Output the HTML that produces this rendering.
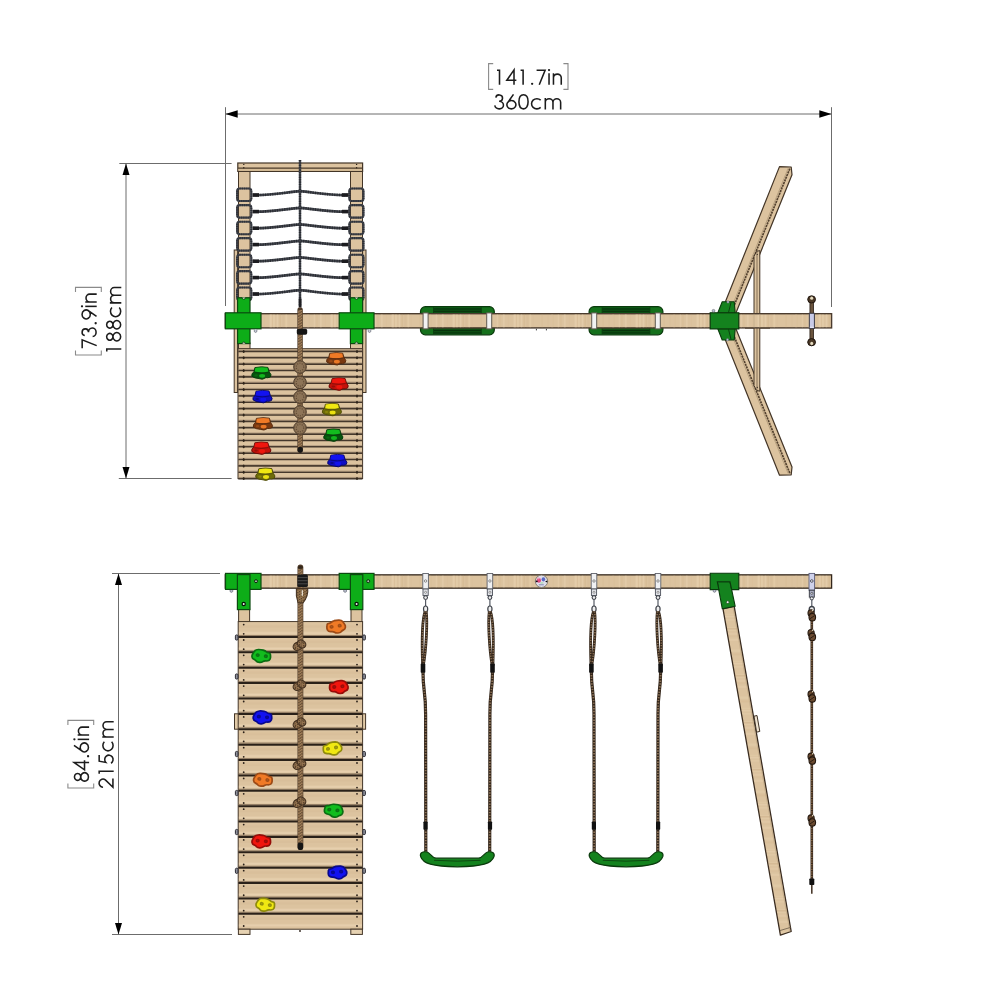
<!DOCTYPE html>
<html><head><meta charset="utf-8"><title>Swing set dimensions</title>
<style>html,body{margin:0;padding:0;background:#fff;}body{width:1000px;height:1000px;overflow:hidden;font-family:"Liberation Sans",sans-serif;}svg{display:block}</style>
</head><body>
<svg width="1000" height="1000" viewBox="0 0 1000 1000">
<rect width="1000" height="1000" fill="#fff"/>
<defs><pattern id="gv" width="61" height="40" patternUnits="userSpaceOnUse"><rect x="19.8" y="0" width="1.1" height="40" fill="#c9a97e" opacity="0.09"/><rect x="32.7" y="0" width="1.5" height="40" fill="#f1dcba" opacity="0.25"/><rect x="2.3" y="0" width="1.6" height="40" fill="#f1dcba" opacity="0.17"/><rect x="25.9" y="0" width="2.3" height="40" fill="#f1dcba" opacity="0.19"/><rect x="38.3" y="0" width="2.5" height="40" fill="#c9a97e" opacity="0.14"/><rect x="59.6" y="0" width="0.9" height="40" fill="#c9a97e" opacity="0.12"/><rect x="8.8" y="0" width="1.0" height="40" fill="#f1dcba" opacity="0.31"/><rect x="11.0" y="0" width="1.8" height="40" fill="#c9a97e" opacity="0.13"/><rect x="33.4" y="0" width="0.9" height="40" fill="#f1dcba" opacity="0.19"/><rect x="41.5" y="0" width="1.6" height="40" fill="#f1dcba" opacity="0.26"/><rect x="27.6" y="0" width="1.3" height="40" fill="#c9a97e" opacity="0.18"/><rect x="14.9" y="0" width="1.8" height="40" fill="#f1dcba" opacity="0.32"/><rect x="44.5" y="0" width="1.3" height="40" fill="#c9a97e" opacity="0.10"/><rect x="25.5" y="0" width="2.2" height="40" fill="#f1dcba" opacity="0.24"/><rect x="2.4" y="0" width="2.0" height="40" fill="#c9a97e" opacity="0.16"/><rect x="53.4" y="0" width="1.4" height="40" fill="#c9a97e" opacity="0.16"/><rect x="35.4" y="0" width="1.6" height="40" fill="#c9a97e" opacity="0.21"/><rect x="28.9" y="0" width="2.0" height="40" fill="#f1dcba" opacity="0.28"/></pattern><pattern id="gh" width="40" height="15.38" patternUnits="userSpaceOnUse"><rect x="0" y="10.0" width="40" height="2.6" fill="#c9a97e" opacity="0.12"/><rect x="0" y="5.9" width="40" height="2.0" fill="#f1dcba" opacity="0.24"/><rect x="0" y="2.6" width="40" height="1.0" fill="#f1dcba" opacity="0.30"/><rect x="0" y="2.0" width="40" height="1.2" fill="#f1dcba" opacity="0.32"/><rect x="0" y="1.2" width="40" height="1.6" fill="#f1dcba" opacity="0.32"/></pattern><pattern id="gl" width="40" height="47" patternUnits="userSpaceOnUse"><rect x="0" y="38.5" width="40" height="2.4" fill="#f1dcba" opacity="0.23"/><rect x="0" y="16.9" width="40" height="2.4" fill="#c9a97e" opacity="0.10"/><rect x="0" y="8.3" width="40" height="1.2" fill="#f1dcba" opacity="0.24"/><rect x="0" y="27.7" width="40" height="1.3" fill="#f1dcba" opacity="0.23"/><rect x="0" y="17.4" width="40" height="1.8" fill="#c9a97e" opacity="0.18"/><rect x="0" y="24.2" width="40" height="1.9" fill="#c9a97e" opacity="0.09"/><rect x="0" y="42.3" width="40" height="2.2" fill="#c9a97e" opacity="0.19"/><rect x="0" y="18.4" width="40" height="1.5" fill="#f1dcba" opacity="0.27"/><rect x="0" y="2.9" width="40" height="0.9" fill="#f1dcba" opacity="0.18"/><rect x="0" y="16.0" width="40" height="0.9" fill="#f1dcba" opacity="0.18"/><rect x="0" y="4.8" width="40" height="1.5" fill="#f1dcba" opacity="0.32"/><rect x="0" y="28.9" width="40" height="1.1" fill="#f1dcba" opacity="0.22"/><rect x="0" y="17.1" width="40" height="1.0" fill="#c9a97e" opacity="0.22"/><rect x="0" y="21.9" width="40" height="1.7" fill="#f1dcba" opacity="0.17"/></pattern></defs>
<line x1="225.50" y1="114.00" x2="831.50" y2="114.00" stroke="#6c6c6c" stroke-width="1" />
<line x1="225.50" y1="107.20" x2="225.50" y2="306.00" stroke="#6c6c6c" stroke-width="1" />
<line x1="831.50" y1="107.20" x2="831.50" y2="307.00" stroke="#6c6c6c" stroke-width="1" />
<polygon points="225.50,114.00 237.70,110.30 237.70,117.70" fill="#000" stroke="none" stroke-width="0" stroke-linejoin="round" />
<polygon points="831.50,114.00 819.30,110.30 819.30,117.70" fill="#000" stroke="none" stroke-width="0" stroke-linejoin="round" />
<line x1="126.00" y1="163.50" x2="126.00" y2="478.50" stroke="#6c6c6c" stroke-width="1" />
<line x1="119.30" y1="163.50" x2="231.60" y2="163.50" stroke="#6c6c6c" stroke-width="1" />
<line x1="118.80" y1="478.50" x2="231.60" y2="478.50" stroke="#6c6c6c" stroke-width="1" />
<polygon points="126.00,163.50 122.50,175.10 129.50,175.10" fill="#000" stroke="none" stroke-width="0" stroke-linejoin="round" />
<polygon points="126.00,478.50 122.50,466.90 129.50,466.90" fill="#000" stroke="none" stroke-width="0" stroke-linejoin="round" />
<line x1="118.50" y1="573.50" x2="118.50" y2="934.50" stroke="#6c6c6c" stroke-width="1" />
<line x1="112.00" y1="573.50" x2="220.00" y2="573.50" stroke="#6c6c6c" stroke-width="1" />
<line x1="112.00" y1="934.50" x2="232.00" y2="934.50" stroke="#6c6c6c" stroke-width="1" />
<polygon points="118.50,573.50 115.00,585.10 122.00,585.10" fill="#000" stroke="none" stroke-width="0" stroke-linejoin="round" />
<polygon points="118.50,934.50 115.00,922.90 122.00,922.90" fill="#000" stroke="none" stroke-width="0" stroke-linejoin="round" />
<g transform="translate(528.70,84.80)"><g transform="translate(-34.90,0)"><path transform="translate(0.00,0) scale(0.02130)" d="M150,-682 H268 V0" fill="none" stroke="#1c1c1c" stroke-width="72.8" stroke-linejoin="miter" stroke-miterlimit="6" stroke-linecap="butt"/><path transform="translate(11.80,0) scale(0.02130)" d="M395,0 V-700 L58,-215 H505" fill="none" stroke="#1c1c1c" stroke-width="72.8" stroke-linejoin="miter" stroke-miterlimit="6" stroke-linecap="butt"/><path transform="translate(23.60,0) scale(0.02130)" d="M150,-682 H268 V0" fill="none" stroke="#1c1c1c" stroke-width="72.8" stroke-linejoin="miter" stroke-miterlimit="6" stroke-linecap="butt"/><circle cx="38.34" cy="-1.02" r="1.15" fill="#1c1c1c"/><path transform="translate(41.30,0) scale(0.02130)" d="M70,-682 H470 L195,0" fill="none" stroke="#1c1c1c" stroke-width="72.8" stroke-linejoin="miter" stroke-miterlimit="6" stroke-linecap="butt"/><path transform="translate(53.10,0) scale(0.02130)" d="M100,0 V-537" fill="none" stroke="#1c1c1c" stroke-width="72.8" stroke-linejoin="miter" stroke-miterlimit="6" stroke-linecap="butt"/><circle cx="55.23" cy="-14.70" r="1.15" fill="#1c1c1c"/><path transform="translate(57.36,0) scale(0.02130)" d="M108,0 V-537 M108,-330 A183,172 0 0 1 474,-330 V0" fill="none" stroke="#1c1c1c" stroke-width="72.8" stroke-linejoin="miter" stroke-miterlimit="6" stroke-linecap="butt"/></g><path d="M-35.50,-21.2 H-40.10 V4.6 H-35.50 M34.70,-21.2 H39.30 V4.6 H34.70" fill="none" stroke="#8a8a8a" stroke-width="1.1"/></g>
<g transform="translate(528.20,109.50)"><g transform="translate(-34.80,0)"><path transform="translate(0.00,0) scale(0.02130)" d="M115,-560 A158,150 0 1 1 268,-385 A204,178 0 1 1 66,-190" fill="none" stroke="#1c1c1c" stroke-width="72.8" stroke-linejoin="miter" stroke-miterlimit="6" stroke-linecap="butt"/><path transform="translate(12.10,0) scale(0.02130)" d="M375,-710 L105,-325 M277,-418 A210,194 0 1 1 276.9,-418 Z" fill="none" stroke="#1c1c1c" stroke-width="72.8" stroke-linejoin="miter" stroke-miterlimit="6" stroke-linecap="butt"/><path transform="translate(24.20,0) scale(0.02130)" d="M277,-30 C140,-30 62,-170 62,-359 C62,-548 140,-688 277,-688 C414,-688 492,-548 492,-359 C492,-170 414,-30 277,-30 Z" fill="none" stroke="#1c1c1c" stroke-width="72.8" stroke-linejoin="miter" stroke-miterlimit="6" stroke-linecap="butt"/><path transform="translate(36.30,0) scale(0.02130)" d="M515,-440 A252,240 0 1 0 515,-97" fill="none" stroke="#1c1c1c" stroke-width="72.8" stroke-linejoin="miter" stroke-miterlimit="6" stroke-linecap="butt"/><path transform="translate(49.61,0) scale(0.02130)" d="M108,0 V-537 M108,-330 A180,172 0 0 1 468,-330 V0 M468,-330 A180,172 0 0 1 828,-330 V0" fill="none" stroke="#1c1c1c" stroke-width="72.8" stroke-linejoin="miter" stroke-miterlimit="6" stroke-linecap="butt"/></g></g>
<g transform="translate(96.70,320.80) rotate(-90)"><g transform="translate(-29.00,0)"><path transform="translate(0.00,0) scale(0.02130)" d="M70,-682 H470 L195,0" fill="none" stroke="#1c1c1c" stroke-width="72.8" stroke-linejoin="miter" stroke-miterlimit="6" stroke-linecap="butt"/><path transform="translate(11.80,0) scale(0.02130)" d="M115,-560 A158,150 0 1 1 268,-385 A204,178 0 1 1 66,-190" fill="none" stroke="#1c1c1c" stroke-width="72.8" stroke-linejoin="miter" stroke-miterlimit="6" stroke-linecap="butt"/><circle cx="26.54" cy="-1.02" r="1.15" fill="#1c1c1c"/><path transform="translate(29.50,0) scale(0.02130)" d="M179,-8 L449,-393 M277,-300 A210,194 0 1 1 277.1,-300 Z" fill="none" stroke="#1c1c1c" stroke-width="72.8" stroke-linejoin="miter" stroke-miterlimit="6" stroke-linecap="butt"/><path transform="translate(41.30,0) scale(0.02130)" d="M100,0 V-537" fill="none" stroke="#1c1c1c" stroke-width="72.8" stroke-linejoin="miter" stroke-miterlimit="6" stroke-linecap="butt"/><circle cx="43.43" cy="-14.70" r="1.15" fill="#1c1c1c"/><path transform="translate(45.56,0) scale(0.02130)" d="M108,0 V-537 M108,-330 A183,172 0 0 1 474,-330 V0" fill="none" stroke="#1c1c1c" stroke-width="72.8" stroke-linejoin="miter" stroke-miterlimit="6" stroke-linecap="butt"/></g><path d="M-29.60,-21.2 H-34.20 V4.6 H-29.60 M28.80,-21.2 H33.40 V4.6 H28.80" fill="none" stroke="#8a8a8a" stroke-width="1.1"/></g>
<g transform="translate(121.30,320.00) rotate(-90)"><g transform="translate(-34.80,0)"><path transform="translate(0.00,0) scale(0.02130)" d="M150,-682 H268 V0" fill="none" stroke="#1c1c1c" stroke-width="72.8" stroke-linejoin="miter" stroke-miterlimit="6" stroke-linecap="butt"/><path transform="translate(12.10,0) scale(0.02130)" d="M277,-392 A160,148 0 1 1 277.1,-392 Z M277,-392 A198,181 0 1 0 277.1,-392 Z" fill="none" stroke="#1c1c1c" stroke-width="72.8" stroke-linejoin="miter" stroke-miterlimit="6" stroke-linecap="butt"/><path transform="translate(24.20,0) scale(0.02130)" d="M277,-392 A160,148 0 1 1 277.1,-392 Z M277,-392 A198,181 0 1 0 277.1,-392 Z" fill="none" stroke="#1c1c1c" stroke-width="72.8" stroke-linejoin="miter" stroke-miterlimit="6" stroke-linecap="butt"/><path transform="translate(36.30,0) scale(0.02130)" d="M515,-440 A252,240 0 1 0 515,-97" fill="none" stroke="#1c1c1c" stroke-width="72.8" stroke-linejoin="miter" stroke-miterlimit="6" stroke-linecap="butt"/><path transform="translate(49.61,0) scale(0.02130)" d="M108,0 V-537 M108,-330 A180,172 0 0 1 468,-330 V0 M468,-330 A180,172 0 0 1 828,-330 V0" fill="none" stroke="#1c1c1c" stroke-width="72.8" stroke-linejoin="miter" stroke-miterlimit="6" stroke-linecap="butt"/></g></g>
<g transform="translate(89.10,753.80) rotate(-90)"><g transform="translate(-29.00,0)"><path transform="translate(0.00,0) scale(0.02130)" d="M277,-392 A160,148 0 1 1 277.1,-392 Z M277,-392 A198,181 0 1 0 277.1,-392 Z" fill="none" stroke="#1c1c1c" stroke-width="72.8" stroke-linejoin="miter" stroke-miterlimit="6" stroke-linecap="butt"/><path transform="translate(11.80,0) scale(0.02130)" d="M395,0 V-700 L58,-215 H505" fill="none" stroke="#1c1c1c" stroke-width="72.8" stroke-linejoin="miter" stroke-miterlimit="6" stroke-linecap="butt"/><circle cx="26.54" cy="-1.02" r="1.15" fill="#1c1c1c"/><path transform="translate(29.50,0) scale(0.02130)" d="M375,-710 L105,-325 M277,-418 A210,194 0 1 1 276.9,-418 Z" fill="none" stroke="#1c1c1c" stroke-width="72.8" stroke-linejoin="miter" stroke-miterlimit="6" stroke-linecap="butt"/><path transform="translate(41.30,0) scale(0.02130)" d="M100,0 V-537" fill="none" stroke="#1c1c1c" stroke-width="72.8" stroke-linejoin="miter" stroke-miterlimit="6" stroke-linecap="butt"/><circle cx="43.43" cy="-14.70" r="1.15" fill="#1c1c1c"/><path transform="translate(45.56,0) scale(0.02130)" d="M108,0 V-537 M108,-330 A183,172 0 0 1 474,-330 V0" fill="none" stroke="#1c1c1c" stroke-width="72.8" stroke-linejoin="miter" stroke-miterlimit="6" stroke-linecap="butt"/></g><path d="M-29.60,-21.2 H-34.20 V4.6 H-29.60 M28.80,-21.2 H33.40 V4.6 H28.80" fill="none" stroke="#8a8a8a" stroke-width="1.1"/></g>
<g transform="translate(113.70,754.20) rotate(-90)"><g transform="translate(-34.80,0)"><path transform="translate(0.00,0) scale(0.02130)" d="M85,-500 A192,182 0 1 1 428,-392 L85,-36 H488" fill="none" stroke="#1c1c1c" stroke-width="72.8" stroke-linejoin="miter" stroke-miterlimit="6" stroke-linecap="butt"/><path transform="translate(12.10,0) scale(0.02130)" d="M150,-682 H268 V0" fill="none" stroke="#1c1c1c" stroke-width="72.8" stroke-linejoin="miter" stroke-miterlimit="6" stroke-linecap="butt"/><path transform="translate(24.20,0) scale(0.02130)" d="M455,-682 H172 L112,-372 A206,196 0 1 1 72,-125" fill="none" stroke="#1c1c1c" stroke-width="72.8" stroke-linejoin="miter" stroke-miterlimit="6" stroke-linecap="butt"/><path transform="translate(36.30,0) scale(0.02130)" d="M515,-440 A252,240 0 1 0 515,-97" fill="none" stroke="#1c1c1c" stroke-width="72.8" stroke-linejoin="miter" stroke-miterlimit="6" stroke-linecap="butt"/><path transform="translate(49.61,0) scale(0.02130)" d="M108,0 V-537 M108,-330 A180,172 0 0 1 468,-330 V0 M468,-330 A180,172 0 0 1 828,-330 V0" fill="none" stroke="#1c1c1c" stroke-width="72.8" stroke-linejoin="miter" stroke-miterlimit="6" stroke-linecap="butt"/></g></g>
<rect x="234.20" y="250.00" width="3.40" height="142.50" fill="#dcc39f" stroke="#433527" stroke-width="1" />
<rect x="362.60" y="250.00" width="3.40" height="142.50" fill="#dcc39f" stroke="#433527" stroke-width="1" />
<rect x="238.50" y="171.00" width="11.50" height="127.00" fill="#dcc39f" stroke="#433527" stroke-width="1" />
<rect x="350.50" y="171.00" width="12.00" height="127.00" fill="#dcc39f" stroke="#433527" stroke-width="1" />
<rect x="238.50" y="343.00" width="11.50" height="6.00" fill="#dcc39f" stroke="#433527" stroke-width="1" />
<rect x="350.50" y="343.00" width="12.00" height="6.00" fill="#dcc39f" stroke="#433527" stroke-width="1" />
<rect x="237.80" y="163.00" width="124.80" height="8.40" fill="#dcc39f" stroke="#433527" stroke-width="1.2" />
<rect x="238.40" y="168.20" width="123.60" height="2.60" fill="#d6bd98" stroke="none" stroke-width="0" />
<line x1="238.00" y1="168.10" x2="362.40" y2="168.10" stroke="#4a3a2a" stroke-width="1.2" />
<circle cx="243.80" cy="164.40" r="0.70" fill="#2a2018" stroke="none" stroke-width="0"/>
<circle cx="243.80" cy="167.80" r="0.70" fill="#2a2018" stroke="none" stroke-width="0"/>
<circle cx="356.60" cy="164.40" r="0.70" fill="#2a2018" stroke="none" stroke-width="0"/>
<circle cx="356.60" cy="167.80" r="0.70" fill="#2a2018" stroke="none" stroke-width="0"/>
<rect x="237.1" y="188.5" width="14.2" height="12.5" rx="2.6" ry="2.6" fill="none" stroke="#44474f" stroke-width="2.1"/>
<rect x="237.1" y="188.5" width="14.2" height="12.5" rx="2.6" ry="2.6" fill="none" stroke="#1d1f24" stroke-width="2.1" stroke-dasharray="1 1.2" opacity="0.6"/>
<rect x="349.3" y="188.5" width="14.2" height="12.5" rx="2.6" ry="2.6" fill="none" stroke="#44474f" stroke-width="2.1"/>
<rect x="349.3" y="188.5" width="14.2" height="12.5" rx="2.6" ry="2.6" fill="none" stroke="#1d1f24" stroke-width="2.1" stroke-dasharray="1 1.2" opacity="0.6"/>
<path d="M253,195.0 C270,195.5 285,192.5 300,191.2 C315,192.5 330,195.5 348,195.0" fill="none" stroke="#44474f" stroke-width="2.7" />
<path d="M253,195.0 C270,195.5 285,192.5 300,191.2 C315,192.5 330,195.5 348,195.0" fill="none" stroke="#1d1f24" stroke-width="2.7" stroke-dasharray="1.1 1.3" opacity="0.7"/>
<rect x="252.50" y="193.20" width="6.50" height="3.60" fill="#1c1c20" stroke="none" stroke-width="0" />
<rect x="342.00" y="193.20" width="6.50" height="3.60" fill="#1c1c20" stroke="none" stroke-width="0" />
<rect x="237.1" y="205.1" width="14.2" height="12.5" rx="2.6" ry="2.6" fill="none" stroke="#44474f" stroke-width="2.1"/>
<rect x="237.1" y="205.1" width="14.2" height="12.5" rx="2.6" ry="2.6" fill="none" stroke="#1d1f24" stroke-width="2.1" stroke-dasharray="1 1.2" opacity="0.6"/>
<rect x="349.3" y="205.1" width="14.2" height="12.5" rx="2.6" ry="2.6" fill="none" stroke="#44474f" stroke-width="2.1"/>
<rect x="349.3" y="205.1" width="14.2" height="12.5" rx="2.6" ry="2.6" fill="none" stroke="#1d1f24" stroke-width="2.1" stroke-dasharray="1 1.2" opacity="0.6"/>
<path d="M253,211.6 C270,212.1 285,209.1 300,207.8 C315,209.1 330,212.1 348,211.6" fill="none" stroke="#44474f" stroke-width="2.7" />
<path d="M253,211.6 C270,212.1 285,209.1 300,207.8 C315,209.1 330,212.1 348,211.6" fill="none" stroke="#1d1f24" stroke-width="2.7" stroke-dasharray="1.1 1.3" opacity="0.7"/>
<rect x="252.50" y="209.80" width="6.50" height="3.60" fill="#1c1c20" stroke="none" stroke-width="0" />
<rect x="342.00" y="209.80" width="6.50" height="3.60" fill="#1c1c20" stroke="none" stroke-width="0" />
<rect x="237.1" y="221.7" width="14.2" height="12.5" rx="2.6" ry="2.6" fill="none" stroke="#44474f" stroke-width="2.1"/>
<rect x="237.1" y="221.7" width="14.2" height="12.5" rx="2.6" ry="2.6" fill="none" stroke="#1d1f24" stroke-width="2.1" stroke-dasharray="1 1.2" opacity="0.6"/>
<rect x="349.3" y="221.7" width="14.2" height="12.5" rx="2.6" ry="2.6" fill="none" stroke="#44474f" stroke-width="2.1"/>
<rect x="349.3" y="221.7" width="14.2" height="12.5" rx="2.6" ry="2.6" fill="none" stroke="#1d1f24" stroke-width="2.1" stroke-dasharray="1 1.2" opacity="0.6"/>
<path d="M253,228.2 C270,228.7 285,225.7 300,224.4 C315,225.7 330,228.7 348,228.2" fill="none" stroke="#44474f" stroke-width="2.7" />
<path d="M253,228.2 C270,228.7 285,225.7 300,224.4 C315,225.7 330,228.7 348,228.2" fill="none" stroke="#1d1f24" stroke-width="2.7" stroke-dasharray="1.1 1.3" opacity="0.7"/>
<rect x="252.50" y="226.40" width="6.50" height="3.60" fill="#1c1c20" stroke="none" stroke-width="0" />
<rect x="342.00" y="226.40" width="6.50" height="3.60" fill="#1c1c20" stroke="none" stroke-width="0" />
<rect x="237.1" y="238.1" width="14.2" height="12.5" rx="2.6" ry="2.6" fill="none" stroke="#44474f" stroke-width="2.1"/>
<rect x="237.1" y="238.1" width="14.2" height="12.5" rx="2.6" ry="2.6" fill="none" stroke="#1d1f24" stroke-width="2.1" stroke-dasharray="1 1.2" opacity="0.6"/>
<rect x="349.3" y="238.1" width="14.2" height="12.5" rx="2.6" ry="2.6" fill="none" stroke="#44474f" stroke-width="2.1"/>
<rect x="349.3" y="238.1" width="14.2" height="12.5" rx="2.6" ry="2.6" fill="none" stroke="#1d1f24" stroke-width="2.1" stroke-dasharray="1 1.2" opacity="0.6"/>
<path d="M253,244.6 C270,245.1 285,242.1 300,240.8 C315,242.1 330,245.1 348,244.6" fill="none" stroke="#44474f" stroke-width="2.7" />
<path d="M253,244.6 C270,245.1 285,242.1 300,240.8 C315,242.1 330,245.1 348,244.6" fill="none" stroke="#1d1f24" stroke-width="2.7" stroke-dasharray="1.1 1.3" opacity="0.7"/>
<rect x="252.50" y="242.80" width="6.50" height="3.60" fill="#1c1c20" stroke="none" stroke-width="0" />
<rect x="342.00" y="242.80" width="6.50" height="3.60" fill="#1c1c20" stroke="none" stroke-width="0" />
<rect x="237.1" y="254.7" width="14.2" height="12.5" rx="2.6" ry="2.6" fill="none" stroke="#44474f" stroke-width="2.1"/>
<rect x="237.1" y="254.7" width="14.2" height="12.5" rx="2.6" ry="2.6" fill="none" stroke="#1d1f24" stroke-width="2.1" stroke-dasharray="1 1.2" opacity="0.6"/>
<rect x="349.3" y="254.7" width="14.2" height="12.5" rx="2.6" ry="2.6" fill="none" stroke="#44474f" stroke-width="2.1"/>
<rect x="349.3" y="254.7" width="14.2" height="12.5" rx="2.6" ry="2.6" fill="none" stroke="#1d1f24" stroke-width="2.1" stroke-dasharray="1 1.2" opacity="0.6"/>
<path d="M253,261.2 C270,261.7 285,258.7 300,257.4 C315,258.7 330,261.7 348,261.2" fill="none" stroke="#44474f" stroke-width="2.7" />
<path d="M253,261.2 C270,261.7 285,258.7 300,257.4 C315,258.7 330,261.7 348,261.2" fill="none" stroke="#1d1f24" stroke-width="2.7" stroke-dasharray="1.1 1.3" opacity="0.7"/>
<rect x="252.50" y="259.40" width="6.50" height="3.60" fill="#1c1c20" stroke="none" stroke-width="0" />
<rect x="342.00" y="259.40" width="6.50" height="3.60" fill="#1c1c20" stroke="none" stroke-width="0" />
<rect x="237.1" y="271.1" width="14.2" height="12.5" rx="2.6" ry="2.6" fill="none" stroke="#44474f" stroke-width="2.1"/>
<rect x="237.1" y="271.1" width="14.2" height="12.5" rx="2.6" ry="2.6" fill="none" stroke="#1d1f24" stroke-width="2.1" stroke-dasharray="1 1.2" opacity="0.6"/>
<rect x="349.3" y="271.1" width="14.2" height="12.5" rx="2.6" ry="2.6" fill="none" stroke="#44474f" stroke-width="2.1"/>
<rect x="349.3" y="271.1" width="14.2" height="12.5" rx="2.6" ry="2.6" fill="none" stroke="#1d1f24" stroke-width="2.1" stroke-dasharray="1 1.2" opacity="0.6"/>
<path d="M253,277.6 C270,278.1 285,275.1 300,273.8 C315,275.1 330,278.1 348,277.6" fill="none" stroke="#44474f" stroke-width="2.7" />
<path d="M253,277.6 C270,278.1 285,275.1 300,273.8 C315,275.1 330,278.1 348,277.6" fill="none" stroke="#1d1f24" stroke-width="2.7" stroke-dasharray="1.1 1.3" opacity="0.7"/>
<rect x="252.50" y="275.80" width="6.50" height="3.60" fill="#1c1c20" stroke="none" stroke-width="0" />
<rect x="342.00" y="275.80" width="6.50" height="3.60" fill="#1c1c20" stroke="none" stroke-width="0" />
<rect x="237.1" y="287.5" width="14.2" height="12.5" rx="2.6" ry="2.6" fill="none" stroke="#44474f" stroke-width="2.1"/>
<rect x="237.1" y="287.5" width="14.2" height="12.5" rx="2.6" ry="2.6" fill="none" stroke="#1d1f24" stroke-width="2.1" stroke-dasharray="1 1.2" opacity="0.6"/>
<rect x="349.3" y="287.5" width="14.2" height="12.5" rx="2.6" ry="2.6" fill="none" stroke="#44474f" stroke-width="2.1"/>
<rect x="349.3" y="287.5" width="14.2" height="12.5" rx="2.6" ry="2.6" fill="none" stroke="#1d1f24" stroke-width="2.1" stroke-dasharray="1 1.2" opacity="0.6"/>
<path d="M253,294.0 C270,294.5 285,291.5 300,290.2 C315,291.5 330,294.5 348,294.0" fill="none" stroke="#44474f" stroke-width="2.7" />
<path d="M253,294.0 C270,294.5 285,291.5 300,290.2 C315,291.5 330,294.5 348,294.0" fill="none" stroke="#1d1f24" stroke-width="2.7" stroke-dasharray="1.1 1.3" opacity="0.7"/>
<rect x="252.50" y="292.20" width="6.50" height="3.60" fill="#1c1c20" stroke="none" stroke-width="0" />
<rect x="342.00" y="292.20" width="6.50" height="3.60" fill="#1c1c20" stroke="none" stroke-width="0" />
<path d="M300,160 V306" fill="none" stroke="#44474f" stroke-width="2.4" />
<path d="M300,160 V306" fill="none" stroke="#1d1f24" stroke-width="2.4" stroke-dasharray="1.1 1.3" opacity="0.7"/>
<rect x="298.70" y="298.50" width="2.80" height="9.00" fill="#1e1e22" stroke="none" stroke-width="0" />
<rect x="237.60" y="297.80" width="12.40" height="45.80" fill="#0dad18" stroke="#0b4a10" stroke-width="1.2" />
<rect x="350.40" y="297.80" width="12.20" height="45.80" fill="#0dad18" stroke="#0b4a10" stroke-width="1.2" />
<path d="M242.20000000000002,297.6 a1.6,1.7 0 0 0 3.2,0" fill="#e8e4da" stroke="#0b3a10" stroke-width="0.8" />
<path d="M242.20000000000002,343.8 a1.6,1.7 0 0 1 3.2,0" fill="#e8e4da" stroke="#0b3a10" stroke-width="0.8" />
<path d="M354.9,297.6 a1.6,1.7 0 0 0 3.2,0" fill="#e8e4da" stroke="#0b3a10" stroke-width="0.8" />
<path d="M354.9,343.8 a1.6,1.7 0 0 1 3.2,0" fill="#e8e4da" stroke="#0b3a10" stroke-width="0.8" />
<rect x="420.5" y="306.7" width="73.8" height="28.1" rx="4.8" fill="#15701c" stroke="#0a3a0c" stroke-width="1.2"/>
<rect x="433.5" y="307.4" width="47.8" height="26.7" fill="#0d4f14"/>
<line x1="434.00" y1="309.00" x2="480.80" y2="309.00" stroke="#062a0a" stroke-width="0.8" />
<line x1="434.00" y1="311.30" x2="480.80" y2="311.30" stroke="#062a0a" stroke-width="0.8" />
<line x1="434.00" y1="330.60" x2="480.80" y2="330.60" stroke="#062a0a" stroke-width="0.8" />
<line x1="434.00" y1="332.90" x2="480.80" y2="332.90" stroke="#062a0a" stroke-width="0.8" />
<line x1="433.50" y1="307.40" x2="433.50" y2="334.10" stroke="#0a3a0e" stroke-width="0.8" />
<line x1="481.30" y1="307.40" x2="481.30" y2="334.10" stroke="#0a3a0e" stroke-width="0.8" />
<rect x="589.1" y="306.7" width="73.8" height="28.1" rx="4.8" fill="#15701c" stroke="#0a3a0c" stroke-width="1.2"/>
<rect x="602.1" y="307.4" width="47.8" height="26.7" fill="#0d4f14"/>
<line x1="602.60" y1="309.00" x2="649.40" y2="309.00" stroke="#062a0a" stroke-width="0.8" />
<line x1="602.60" y1="311.30" x2="649.40" y2="311.30" stroke="#062a0a" stroke-width="0.8" />
<line x1="602.60" y1="330.60" x2="649.40" y2="330.60" stroke="#062a0a" stroke-width="0.8" />
<line x1="602.60" y1="332.90" x2="649.40" y2="332.90" stroke="#062a0a" stroke-width="0.8" />
<line x1="602.10" y1="307.40" x2="602.10" y2="334.10" stroke="#0a3a0e" stroke-width="0.8" />
<line x1="649.90" y1="307.40" x2="649.90" y2="334.10" stroke="#0a3a0e" stroke-width="0.8" />
<rect x="225.30" y="313.70" width="606.30" height="14.20" fill="#dcc39f" stroke="#4a3b2e" stroke-width="1.4" />
<rect x="226.00" y="314.30" width="605.00" height="13.20" fill="url(#gv)"/>
<line x1="536.40" y1="328.80" x2="536.40" y2="330.40" stroke="#3a3a3a" stroke-width="1" />
<line x1="546.40" y1="328.80" x2="546.40" y2="330.40" stroke="#3a3a3a" stroke-width="1" />
<rect x="423.10" y="312.90" width="5.00" height="16.00" fill="#f2f2f2" stroke="#5f5a50" stroke-width="1" />
<rect x="486.70" y="312.90" width="5.00" height="16.00" fill="#f2f2f2" stroke="#5f5a50" stroke-width="1" />
<rect x="591.70" y="312.90" width="5.00" height="16.00" fill="#f2f2f2" stroke="#5f5a50" stroke-width="1" />
<rect x="655.30" y="312.90" width="5.00" height="16.00" fill="#f2f2f2" stroke="#5f5a50" stroke-width="1" />
<rect x="238.00" y="348.70" width="124.60" height="129.90" fill="#dcc39f" stroke="#433527" stroke-width="1" />
<line x1="238.30" y1="351.40" x2="362.30" y2="351.40" stroke="#45382c" stroke-width="1.6" />
<line x1="238.30" y1="350.20" x2="362.30" y2="350.20" stroke="#96806a" stroke-width="0.9" opacity="0.6"/>
<ellipse cx="243.7" cy="351.40" rx="1.0" ry="1.5" fill="#2e241a"/>
<ellipse cx="357.0" cy="351.40" rx="1.0" ry="1.5" fill="#2e241a"/>
<line x1="238.30" y1="357.76" x2="362.30" y2="357.76" stroke="#45382c" stroke-width="1.6" />
<line x1="238.30" y1="356.56" x2="362.30" y2="356.56" stroke="#96806a" stroke-width="0.9" opacity="0.6"/>
<ellipse cx="243.7" cy="357.76" rx="1.0" ry="1.5" fill="#2e241a"/>
<ellipse cx="357.0" cy="357.76" rx="1.0" ry="1.5" fill="#2e241a"/>
<line x1="238.30" y1="364.12" x2="362.30" y2="364.12" stroke="#45382c" stroke-width="1.6" />
<line x1="238.30" y1="362.92" x2="362.30" y2="362.92" stroke="#96806a" stroke-width="0.9" opacity="0.6"/>
<ellipse cx="243.7" cy="364.12" rx="1.0" ry="1.5" fill="#2e241a"/>
<ellipse cx="357.0" cy="364.12" rx="1.0" ry="1.5" fill="#2e241a"/>
<line x1="238.30" y1="370.48" x2="362.30" y2="370.48" stroke="#45382c" stroke-width="1.6" />
<line x1="238.30" y1="369.28" x2="362.30" y2="369.28" stroke="#96806a" stroke-width="0.9" opacity="0.6"/>
<ellipse cx="243.7" cy="370.48" rx="1.0" ry="1.5" fill="#2e241a"/>
<ellipse cx="357.0" cy="370.48" rx="1.0" ry="1.5" fill="#2e241a"/>
<line x1="238.30" y1="376.84" x2="362.30" y2="376.84" stroke="#45382c" stroke-width="1.6" />
<line x1="238.30" y1="375.64" x2="362.30" y2="375.64" stroke="#96806a" stroke-width="0.9" opacity="0.6"/>
<ellipse cx="243.7" cy="376.84" rx="1.0" ry="1.5" fill="#2e241a"/>
<ellipse cx="357.0" cy="376.84" rx="1.0" ry="1.5" fill="#2e241a"/>
<line x1="238.30" y1="383.20" x2="362.30" y2="383.20" stroke="#45382c" stroke-width="1.6" />
<line x1="238.30" y1="382.00" x2="362.30" y2="382.00" stroke="#96806a" stroke-width="0.9" opacity="0.6"/>
<ellipse cx="243.7" cy="383.20" rx="1.0" ry="1.5" fill="#2e241a"/>
<ellipse cx="357.0" cy="383.20" rx="1.0" ry="1.5" fill="#2e241a"/>
<line x1="238.30" y1="389.56" x2="362.30" y2="389.56" stroke="#45382c" stroke-width="1.6" />
<line x1="238.30" y1="388.36" x2="362.30" y2="388.36" stroke="#96806a" stroke-width="0.9" opacity="0.6"/>
<ellipse cx="243.7" cy="389.56" rx="1.0" ry="1.5" fill="#2e241a"/>
<ellipse cx="357.0" cy="389.56" rx="1.0" ry="1.5" fill="#2e241a"/>
<line x1="238.30" y1="395.92" x2="362.30" y2="395.92" stroke="#45382c" stroke-width="1.6" />
<line x1="238.30" y1="394.72" x2="362.30" y2="394.72" stroke="#96806a" stroke-width="0.9" opacity="0.6"/>
<ellipse cx="243.7" cy="395.92" rx="1.0" ry="1.5" fill="#2e241a"/>
<ellipse cx="357.0" cy="395.92" rx="1.0" ry="1.5" fill="#2e241a"/>
<line x1="238.30" y1="402.28" x2="362.30" y2="402.28" stroke="#45382c" stroke-width="1.6" />
<line x1="238.30" y1="401.08" x2="362.30" y2="401.08" stroke="#96806a" stroke-width="0.9" opacity="0.6"/>
<ellipse cx="243.7" cy="402.28" rx="1.0" ry="1.5" fill="#2e241a"/>
<ellipse cx="357.0" cy="402.28" rx="1.0" ry="1.5" fill="#2e241a"/>
<line x1="238.30" y1="408.64" x2="362.30" y2="408.64" stroke="#45382c" stroke-width="1.6" />
<line x1="238.30" y1="407.44" x2="362.30" y2="407.44" stroke="#96806a" stroke-width="0.9" opacity="0.6"/>
<ellipse cx="243.7" cy="408.64" rx="1.0" ry="1.5" fill="#2e241a"/>
<ellipse cx="357.0" cy="408.64" rx="1.0" ry="1.5" fill="#2e241a"/>
<line x1="238.30" y1="415.00" x2="362.30" y2="415.00" stroke="#45382c" stroke-width="1.6" />
<line x1="238.30" y1="413.80" x2="362.30" y2="413.80" stroke="#96806a" stroke-width="0.9" opacity="0.6"/>
<ellipse cx="243.7" cy="415.00" rx="1.0" ry="1.5" fill="#2e241a"/>
<ellipse cx="357.0" cy="415.00" rx="1.0" ry="1.5" fill="#2e241a"/>
<line x1="238.30" y1="421.36" x2="362.30" y2="421.36" stroke="#45382c" stroke-width="1.6" />
<line x1="238.30" y1="420.16" x2="362.30" y2="420.16" stroke="#96806a" stroke-width="0.9" opacity="0.6"/>
<ellipse cx="243.7" cy="421.36" rx="1.0" ry="1.5" fill="#2e241a"/>
<ellipse cx="357.0" cy="421.36" rx="1.0" ry="1.5" fill="#2e241a"/>
<line x1="238.30" y1="427.72" x2="362.30" y2="427.72" stroke="#45382c" stroke-width="1.6" />
<line x1="238.30" y1="426.52" x2="362.30" y2="426.52" stroke="#96806a" stroke-width="0.9" opacity="0.6"/>
<ellipse cx="243.7" cy="427.72" rx="1.0" ry="1.5" fill="#2e241a"/>
<ellipse cx="357.0" cy="427.72" rx="1.0" ry="1.5" fill="#2e241a"/>
<line x1="238.30" y1="434.08" x2="362.30" y2="434.08" stroke="#45382c" stroke-width="1.6" />
<line x1="238.30" y1="432.88" x2="362.30" y2="432.88" stroke="#96806a" stroke-width="0.9" opacity="0.6"/>
<ellipse cx="243.7" cy="434.08" rx="1.0" ry="1.5" fill="#2e241a"/>
<ellipse cx="357.0" cy="434.08" rx="1.0" ry="1.5" fill="#2e241a"/>
<line x1="238.30" y1="440.44" x2="362.30" y2="440.44" stroke="#45382c" stroke-width="1.6" />
<line x1="238.30" y1="439.24" x2="362.30" y2="439.24" stroke="#96806a" stroke-width="0.9" opacity="0.6"/>
<ellipse cx="243.7" cy="440.44" rx="1.0" ry="1.5" fill="#2e241a"/>
<ellipse cx="357.0" cy="440.44" rx="1.0" ry="1.5" fill="#2e241a"/>
<line x1="238.30" y1="446.80" x2="362.30" y2="446.80" stroke="#45382c" stroke-width="1.6" />
<line x1="238.30" y1="445.60" x2="362.30" y2="445.60" stroke="#96806a" stroke-width="0.9" opacity="0.6"/>
<ellipse cx="243.7" cy="446.80" rx="1.0" ry="1.5" fill="#2e241a"/>
<ellipse cx="357.0" cy="446.80" rx="1.0" ry="1.5" fill="#2e241a"/>
<line x1="238.30" y1="453.16" x2="362.30" y2="453.16" stroke="#45382c" stroke-width="1.6" />
<line x1="238.30" y1="451.96" x2="362.30" y2="451.96" stroke="#96806a" stroke-width="0.9" opacity="0.6"/>
<ellipse cx="243.7" cy="453.16" rx="1.0" ry="1.5" fill="#2e241a"/>
<ellipse cx="357.0" cy="453.16" rx="1.0" ry="1.5" fill="#2e241a"/>
<line x1="238.30" y1="459.52" x2="362.30" y2="459.52" stroke="#45382c" stroke-width="1.6" />
<line x1="238.30" y1="458.32" x2="362.30" y2="458.32" stroke="#96806a" stroke-width="0.9" opacity="0.6"/>
<ellipse cx="243.7" cy="459.52" rx="1.0" ry="1.5" fill="#2e241a"/>
<ellipse cx="357.0" cy="459.52" rx="1.0" ry="1.5" fill="#2e241a"/>
<line x1="238.30" y1="465.88" x2="362.30" y2="465.88" stroke="#45382c" stroke-width="1.6" />
<line x1="238.30" y1="464.68" x2="362.30" y2="464.68" stroke="#96806a" stroke-width="0.9" opacity="0.6"/>
<ellipse cx="243.7" cy="465.88" rx="1.0" ry="1.5" fill="#2e241a"/>
<ellipse cx="357.0" cy="465.88" rx="1.0" ry="1.5" fill="#2e241a"/>
<line x1="238.30" y1="472.24" x2="362.30" y2="472.24" stroke="#45382c" stroke-width="1.6" />
<line x1="238.30" y1="471.04" x2="362.30" y2="471.04" stroke="#96806a" stroke-width="0.9" opacity="0.6"/>
<ellipse cx="243.7" cy="472.24" rx="1.0" ry="1.5" fill="#2e241a"/>
<ellipse cx="357.0" cy="472.24" rx="1.0" ry="1.5" fill="#2e241a"/>
<line x1="238.30" y1="478.60" x2="362.30" y2="478.60" stroke="#45382c" stroke-width="1.6" />
<line x1="238.30" y1="477.40" x2="362.30" y2="477.40" stroke="#96806a" stroke-width="0.9" opacity="0.6"/>
<ellipse cx="243.7" cy="478.60" rx="1.0" ry="1.5" fill="#2e241a"/>
<ellipse cx="357.0" cy="478.60" rx="1.0" ry="1.5" fill="#2e241a"/>
<rect x="225.40" y="312.80" width="35.60" height="16.00" fill="#0dad18" stroke="#0b4a10" stroke-width="1.2" />
<rect x="339.20" y="312.80" width="34.80" height="16.00" fill="#0dad18" stroke="#0b4a10" stroke-width="1.2" />
<path d="M254.29999999999998,329.5 v2.2 q1.3,1.6 2.6,0 v-2.2" fill="#c8ccd8" stroke="#555a66" stroke-width="0.6" />
<path d="M368.2,329.5 v2.2 q1.3,1.6 2.6,0 v-2.2" fill="#c8ccd8" stroke="#555a66" stroke-width="0.6" />
<path d="M300.1,310 V450" fill="none" stroke="#4e3a28" stroke-width="5.3999999999999995" stroke-linecap="round"/>
<path d="M300.1,310 V450" fill="none" stroke="#a3815a" stroke-width="4.1" />
<path d="M298.77,310 V450" fill="none" stroke="#4e3a28" stroke-width="1.33" stroke-dasharray="1.3 1.5" stroke-dashoffset="0.00" opacity="0.7"/>
<path d="M300.10,310 V450" fill="none" stroke="#4e3a28" stroke-width="1.33" stroke-dasharray="1.3 1.5" stroke-dashoffset="0.93" opacity="0.7"/>
<path d="M301.43,310 V450" fill="none" stroke="#4e3a28" stroke-width="1.33" stroke-dasharray="1.3 1.5" stroke-dashoffset="1.86" opacity="0.7"/>
<circle cx="300.00" cy="367.00" r="6.30" fill="#8d7457" stroke="#4f3e2e" stroke-width="1"/>
<circle cx="300" cy="367" r="3.8" fill="none" stroke="#5b4632" stroke-width="1.2" stroke-dasharray="1.2 1.2" opacity="0.8"/>
<circle cx="300" cy="367" r="5.6" fill="none" stroke="#5b4632" stroke-width="0.9" stroke-dasharray="1.2 1.2" opacity="0.6"/>
<circle cx="300.00" cy="382.40" r="6.30" fill="#8d7457" stroke="#4f3e2e" stroke-width="1"/>
<circle cx="300" cy="382.4" r="3.8" fill="none" stroke="#5b4632" stroke-width="1.2" stroke-dasharray="1.2 1.2" opacity="0.8"/>
<circle cx="300" cy="382.4" r="5.6" fill="none" stroke="#5b4632" stroke-width="0.9" stroke-dasharray="1.2 1.2" opacity="0.6"/>
<circle cx="300.00" cy="397.00" r="6.30" fill="#8d7457" stroke="#4f3e2e" stroke-width="1"/>
<circle cx="300" cy="397" r="3.8" fill="none" stroke="#5b4632" stroke-width="1.2" stroke-dasharray="1.2 1.2" opacity="0.8"/>
<circle cx="300" cy="397" r="5.6" fill="none" stroke="#5b4632" stroke-width="0.9" stroke-dasharray="1.2 1.2" opacity="0.6"/>
<circle cx="300.00" cy="412.00" r="6.30" fill="#8d7457" stroke="#4f3e2e" stroke-width="1"/>
<circle cx="300" cy="412" r="3.8" fill="none" stroke="#5b4632" stroke-width="1.2" stroke-dasharray="1.2 1.2" opacity="0.8"/>
<circle cx="300" cy="412" r="5.6" fill="none" stroke="#5b4632" stroke-width="0.9" stroke-dasharray="1.2 1.2" opacity="0.6"/>
<circle cx="300.00" cy="428.00" r="6.30" fill="#8d7457" stroke="#4f3e2e" stroke-width="1"/>
<circle cx="300" cy="428" r="3.8" fill="none" stroke="#5b4632" stroke-width="1.2" stroke-dasharray="1.2 1.2" opacity="0.8"/>
<circle cx="300" cy="428" r="5.6" fill="none" stroke="#5b4632" stroke-width="0.9" stroke-dasharray="1.2 1.2" opacity="0.6"/>
<rect x="296.8" y="328.8" width="10.4" height="6" rx="1.8" fill="#151515"/>
<ellipse cx="300.2" cy="449.8" rx="2.7" ry="3" fill="#151515"/>
<path d="M329.7,353.4 Q336.3,352.0 342.7,353.2 L344.1,357.8 Q347.1,360.8 345.1,362.8 Q342.3,364.0 340.8,363.4 Q337.3,366.2 333.8,364.4 Q329.3,364.2 326.7,362.0 Q325.9,359.6 328.7,357.6 Z" fill="#793911" stroke="#55280c" stroke-width="0.9" stroke-linejoin="round"/>
<path d="M330.1,353.8 Q336.3,352.4 342.3,353.6 L343.1,357.2 Q336.3,358.8 329.5,357.4 Z" fill="#f07a26" stroke="none" stroke-width="0" />
<ellipse cx="336.9" cy="361.6" rx="3.0" ry="1.9" fill="#f07a26" opacity="0.95"/>
<ellipse cx="330.9" cy="361.2" rx="1.8" ry="1.1" fill="#9c4a16" opacity="0.9"/>
<path d="M329.3,358.4 Q336.3,359.8 343.3,358.2" fill="none" stroke="#55280c" stroke-width="0.8" opacity="0.8"/>
<path d="M254.9,367.6 Q261.5,366.2 267.9,367.4 L269.3,372.0 Q272.3,375.0 270.3,377.0 Q267.5,378.2 266.0,377.6 Q262.5,380.4 259.0,378.6 Q254.5,378.4 251.9,376.2 Q251.1,373.8 253.9,371.8 Z" fill="#07540e" stroke="#053b09" stroke-width="0.9" stroke-linejoin="round"/>
<path d="M255.3,368.0 Q261.5,366.6 267.5,367.8 L268.3,371.4 Q261.5,373.0 254.7,371.6 Z" fill="#12bc1e" stroke="none" stroke-width="0" />
<ellipse cx="262.1" cy="375.8" rx="3.0" ry="1.9" fill="#12bc1e" opacity="0.95"/>
<ellipse cx="256.1" cy="375.4" rx="1.8" ry="1.1" fill="#0a6c12" opacity="0.9"/>
<path d="M254.5,372.6 Q261.5,374.0 268.5,372.4" fill="none" stroke="#053b09" stroke-width="0.8" opacity="0.8"/>
<path d="M332.1,378.7 Q338.7,377.3 345.1,378.5 L346.5,383.1 Q349.5,386.1 347.5,388.1 Q344.7,389.3 343.2,388.7 Q339.7,391.5 336.2,389.7 Q331.7,389.5 329.1,387.3 Q328.3,384.9 331.1,382.9 Z" fill="#c4120b" stroke="#690805" stroke-width="0.9" stroke-linejoin="round"/>
<path d="M332.5,379.1 Q338.7,377.7 344.7,378.9 L345.5,382.5 Q338.7,384.1 331.9,382.7 Z" fill="#f0160e" stroke="none" stroke-width="0" />
<ellipse cx="339.3" cy="386.9" rx="3.0" ry="1.9" fill="#f0160e" opacity="0.95"/>
<ellipse cx="333.3" cy="386.5" rx="1.8" ry="1.1" fill="#960c08" opacity="0.9"/>
<path d="M331.7,383.7 Q338.7,385.1 345.7,383.5" fill="none" stroke="#690805" stroke-width="0.8" opacity="0.8"/>
<path d="M256.0,391.2 Q262.6,389.8 269.0,391.0 L270.4,395.6 Q273.4,398.6 271.4,400.6 Q268.6,401.8 267.1,401.2 Q263.6,404.0 260.1,402.2 Q255.6,402.0 253.0,399.8 Q252.2,397.4 255.0,395.4 Z" fill="#0e0ec4" stroke="#050562" stroke-width="0.9" stroke-linejoin="round"/>
<path d="M256.4,391.6 Q262.6,390.2 268.6,391.4 L269.4,395.0 Q262.6,396.6 255.8,395.2 Z" fill="#1212f0" stroke="none" stroke-width="0" />
<ellipse cx="263.2" cy="399.4" rx="3.0" ry="1.9" fill="#1212f0" opacity="0.95"/>
<ellipse cx="257.2" cy="399.0" rx="1.8" ry="1.1" fill="#08088c" opacity="0.9"/>
<path d="M255.6,396.2 Q262.6,397.6 269.6,396.0" fill="none" stroke="#050562" stroke-width="0.8" opacity="0.8"/>
<path d="M325.4,404.2 Q332.0,402.8 338.4,404.0 L339.8,408.6 Q342.8,411.6 340.8,413.6 Q338.0,414.8 336.5,414.2 Q333.0,417.0 329.5,415.2 Q325.0,415.0 322.4,412.8 Q321.6,410.4 324.4,408.4 Z" fill="#6e6b09" stroke="#4e4b06" stroke-width="0.9" stroke-linejoin="round"/>
<path d="M325.8,404.6 Q332.0,403.2 338.0,404.4 L338.8,408.0 Q332.0,409.6 325.2,408.2 Z" fill="#f0e812" stroke="none" stroke-width="0" />
<ellipse cx="332.6" cy="412.4" rx="3.0" ry="1.9" fill="#f0e812" opacity="0.95"/>
<ellipse cx="326.6" cy="412.0" rx="1.8" ry="1.1" fill="#8e8a0c" opacity="0.9"/>
<path d="M325.0,409.2 Q332.0,410.6 339.0,409.0" fill="none" stroke="#4e4b06" stroke-width="0.8" opacity="0.8"/>
<path d="M256.4,418.4 Q263.0,417.0 269.4,418.2 L270.8,422.8 Q273.8,425.8 271.8,427.8 Q269.0,429.0 267.5,428.4 Q264.0,431.2 260.5,429.4 Q256.0,429.2 253.4,427.0 Q252.6,424.6 255.4,422.6 Z" fill="#793911" stroke="#55280c" stroke-width="0.9" stroke-linejoin="round"/>
<path d="M256.8,418.8 Q263.0,417.4 269.0,418.6 L269.8,422.2 Q263.0,423.8 256.2,422.4 Z" fill="#f07a26" stroke="none" stroke-width="0" />
<ellipse cx="263.6" cy="426.6" rx="3.0" ry="1.9" fill="#f07a26" opacity="0.95"/>
<ellipse cx="257.6" cy="426.2" rx="1.8" ry="1.1" fill="#9c4a16" opacity="0.9"/>
<path d="M256.0,423.4 Q263.0,424.8 270.0,423.2" fill="none" stroke="#55280c" stroke-width="0.8" opacity="0.8"/>
<path d="M326.8,429.8 Q333.4,428.4 339.8,429.6 L341.2,434.2 Q344.2,437.2 342.2,439.2 Q339.4,440.4 337.9,439.8 Q334.4,442.6 330.9,440.8 Q326.4,440.6 323.8,438.4 Q323.0,436.0 325.8,434.0 Z" fill="#07540e" stroke="#053b09" stroke-width="0.9" stroke-linejoin="round"/>
<path d="M327.2,430.2 Q333.4,428.8 339.4,430.0 L340.2,433.6 Q333.4,435.2 326.6,433.8 Z" fill="#12bc1e" stroke="none" stroke-width="0" />
<ellipse cx="334.0" cy="438.0" rx="3.0" ry="1.9" fill="#12bc1e" opacity="0.95"/>
<ellipse cx="328.0" cy="437.6" rx="1.8" ry="1.1" fill="#0a6c12" opacity="0.9"/>
<path d="M326.4,434.8 Q333.4,436.2 340.4,434.6" fill="none" stroke="#053b09" stroke-width="0.8" opacity="0.8"/>
<path d="M254.8,442.8 Q261.4,441.4 267.8,442.6 L269.2,447.2 Q272.2,450.2 270.2,452.2 Q267.4,453.4 265.9,452.8 Q262.4,455.6 258.9,453.8 Q254.4,453.6 251.8,451.4 Q251.0,449.0 253.8,447.0 Z" fill="#c4120b" stroke="#690805" stroke-width="0.9" stroke-linejoin="round"/>
<path d="M255.2,443.2 Q261.4,441.8 267.4,443.0 L268.2,446.6 Q261.4,448.2 254.6,446.8 Z" fill="#f0160e" stroke="none" stroke-width="0" />
<ellipse cx="262.0" cy="451.0" rx="3.0" ry="1.9" fill="#f0160e" opacity="0.95"/>
<ellipse cx="256.0" cy="450.6" rx="1.8" ry="1.1" fill="#960c08" opacity="0.9"/>
<path d="M254.4,447.8 Q261.4,449.2 268.4,447.6" fill="none" stroke="#690805" stroke-width="0.8" opacity="0.8"/>
<path d="M330.8,455.2 Q337.4,453.8 343.8,455.0 L345.2,459.6 Q348.2,462.6 346.2,464.6 Q343.4,465.8 341.9,465.2 Q338.4,468.0 334.9,466.2 Q330.4,466.0 327.8,463.8 Q327.0,461.4 329.8,459.4 Z" fill="#0e0ec4" stroke="#050562" stroke-width="0.9" stroke-linejoin="round"/>
<path d="M331.2,455.6 Q337.4,454.2 343.4,455.4 L344.2,459.0 Q337.4,460.6 330.6,459.2 Z" fill="#1212f0" stroke="none" stroke-width="0" />
<ellipse cx="338.0" cy="463.4" rx="3.0" ry="1.9" fill="#1212f0" opacity="0.95"/>
<ellipse cx="332.0" cy="463.0" rx="1.8" ry="1.1" fill="#08088c" opacity="0.9"/>
<path d="M330.4,460.2 Q337.4,461.6 344.4,460.0" fill="none" stroke="#050562" stroke-width="0.8" opacity="0.8"/>
<path d="M258.8,468.8 Q265.4,467.4 271.8,468.6 L273.2,473.2 Q276.2,476.2 274.2,478.2 Q271.4,479.4 269.9,478.8 Q266.4,481.6 262.9,479.8 Q258.4,479.6 255.8,477.4 Q255.0,475.0 257.8,473.0 Z" fill="#6e6b09" stroke="#4e4b06" stroke-width="0.9" stroke-linejoin="round"/>
<path d="M259.2,469.2 Q265.4,467.8 271.4,469.0 L272.2,472.6 Q265.4,474.2 258.6,472.8 Z" fill="#f0e812" stroke="none" stroke-width="0" />
<ellipse cx="266.0" cy="477.0" rx="3.0" ry="1.9" fill="#f0e812" opacity="0.95"/>
<ellipse cx="260.0" cy="476.6" rx="1.8" ry="1.1" fill="#8e8a0c" opacity="0.9"/>
<path d="M258.4,473.8 Q265.4,475.2 272.4,473.6" fill="none" stroke="#4e4b06" stroke-width="0.8" opacity="0.8"/>
<polygon points="720.50,327.80 779.50,475.20 791.20,474.80 792.00,467.00 735.50,327.80" fill="#dcc39f" stroke="#433527" stroke-width="1.2" stroke-linejoin="round" />
<line x1="789.80" y1="473.20" x2="731.50" y2="329.80" stroke="#54422f" stroke-width="1.7" stroke-dasharray="2.2 0.7"/>
<line x1="788.20" y1="473.60" x2="729.90" y2="330.20" stroke="#a89272" stroke-width="0.7" />
<polygon points="720.50,314.00 779.50,166.60 791.20,167.00 792.00,174.80 735.50,314.00" fill="#dcc39f" stroke="#433527" stroke-width="1.2" stroke-linejoin="round" />
<line x1="789.80" y1="168.60" x2="731.50" y2="312.00" stroke="#54422f" stroke-width="1.7" stroke-dasharray="2.2 0.7"/>
<line x1="788.20" y1="168.20" x2="729.90" y2="311.60" stroke="#a89272" stroke-width="0.7" />
<polygon points="754.00,256.20 756.60,251.40 759.80,250.60 759.80,391.20 756.60,390.40 754.00,385.60" fill="#dcc4a0" stroke="#433527" stroke-width="1" stroke-linejoin="round" />
<line x1="757.00" y1="252.00" x2="757.00" y2="389.80" stroke="#6e5a44" stroke-width="0.8" />
<circle cx="757.30" cy="254.50" r="0.60" fill="#2a2018" stroke="none" stroke-width="0"/>
<circle cx="757.30" cy="387.30" r="0.60" fill="#2a2018" stroke="none" stroke-width="0"/>
<rect x="745.00" y="313.70" width="25.00" height="14.20" fill="#dcc39f" stroke="none" stroke-width="0" />
<rect x="745.00" y="314.30" width="25.00" height="13.20" fill="url(#gv)"/>
<line x1="745.00" y1="313.70" x2="770.00" y2="313.70" stroke="#4a3b2e" stroke-width="1.4" />
<line x1="745.00" y1="327.90" x2="770.00" y2="327.90" stroke="#4a3b2e" stroke-width="1.4" />
<line x1="754.00" y1="314.30" x2="754.00" y2="327.50" stroke="#b9a283" stroke-width="0.6" />
<line x1="759.80" y1="314.30" x2="759.80" y2="327.50" stroke="#b9a283" stroke-width="0.6" />
<polygon points="722.20,340.00 734.20,340.00 735.20,328.80 717.80,328.80" fill="#14821e" stroke="#0a3a0c" stroke-width="1.1" stroke-linejoin="round" />
<line x1="731.00" y1="339.30" x2="728.50" y2="329.30" stroke="#0a3a0c" stroke-width="0.9" />
<polygon points="722.20,301.80 734.20,301.80 735.20,313.00 717.80,313.00" fill="#14821e" stroke="#0a3a0c" stroke-width="1.1" stroke-linejoin="round" />
<line x1="731.00" y1="302.50" x2="728.50" y2="312.50" stroke="#0a3a0c" stroke-width="0.9" />
<rect x="710.20" y="312.80" width="28.60" height="16.10" fill="#14821e" stroke="#0a3a0c" stroke-width="1.2" />
<circle cx="713.50" cy="310.80" r="1.40" fill="#b8bfd8" stroke="#555" stroke-width="0.5"/>
<circle cx="728.00" cy="302.00" r="1.20" fill="#b8bfd8" stroke="#555" stroke-width="0.4"/>
<circle cx="727.50" cy="339.80" r="1.20" fill="#b8bfd8" stroke="#555" stroke-width="0.4"/>
<path d="M811.7,299 V342.5" fill="none" stroke="#2e2218" stroke-width="4.4" />
<path d="M811.7,299 V342.5" fill="none" stroke="#6a543e" stroke-width="2.6" />
<ellipse cx="811.6" cy="299.4" rx="3.9" ry="3.6" fill="#4a3826" stroke="#20160e" stroke-width="1"/>
<ellipse cx="811.7" cy="298.2" rx="1.5" ry="1.6" fill="#e6dcc0"/>
<ellipse cx="811.6" cy="342.2" rx="3.9" ry="3.6" fill="#4a3826" stroke="#20160e" stroke-width="1"/>
<ellipse cx="811.7" cy="343.4" rx="1.5" ry="1.6" fill="#e6dcc0"/>
<rect x="809.30" y="313.30" width="5.10" height="15.10" fill="#c9cbe8" stroke="#3c3c48" stroke-width="1" />
<line x1="809.80" y1="327.30" x2="813.90" y2="327.30" stroke="#f2f2fa" stroke-width="0.9" />
<polygon points="723.00,608.80 734.20,606.30 791.20,931.50 780.40,935.20" fill="#dcc39f" stroke="#3a2c20" stroke-width="1.3" stroke-linejoin="round" />
<polygon points="723.80,609.40 733.50,607.20 790.40,931.00 781.00,934.20" fill="url(#gl)" stroke="none" stroke-width="0" stroke-linejoin="round" />
<line x1="733.00" y1="607.00" x2="789.90" y2="931.80" stroke="#b39c7c" stroke-width="0.5" />
<line x1="779.80" y1="930.60" x2="790.60" y2="927.40" stroke="#6a5a48" stroke-width="0.8" />
<polygon points="754.00,716.20 757.00,715.50 759.80,731.40 756.60,732.20" fill="#efe4d2" stroke="#3f3226" stroke-width="1" stroke-linejoin="round" />
<rect x="238.60" y="609.00" width="11.00" height="13.00" fill="#dcc39f" stroke="#433527" stroke-width="1" />
<rect x="351.00" y="609.00" width="11.00" height="13.00" fill="#dcc39f" stroke="#433527" stroke-width="1" />
<rect x="225.30" y="574.85" width="606.30" height="13.30" fill="#dcc39f" stroke="#33261b" stroke-width="1.3" />
<rect x="226.00" y="575.55" width="605.00" height="11.90" fill="url(#gv)"/>
<rect x="234.50" y="713.80" width="131.10" height="15.40" fill="#e2cba8" stroke="#433527" stroke-width="1" />
<rect x="238.20" y="621.60" width="124.40" height="307.60" fill="#dcc39f" stroke="#433527" stroke-width="1" />
<rect x="238.80" y="622.20" width="123.20" height="306.40" fill="url(#gh)"/>
<rect x="238.40" y="929.20" width="11.60" height="5.20" fill="#e6d2b2" stroke="#433527" stroke-width="1" />
<rect x="350.80" y="929.20" width="11.60" height="5.20" fill="#e6d2b2" stroke="#433527" stroke-width="1" />
<line x1="238.40" y1="635.48" x2="362.40" y2="635.48" stroke="#85705a" stroke-width="1.1" opacity="0.8"/>
<line x1="238.40" y1="636.98" x2="362.40" y2="636.98" stroke="#2a2119" stroke-width="2.0" />
<line x1="238.40" y1="650.86" x2="362.40" y2="650.86" stroke="#85705a" stroke-width="1.1" opacity="0.8"/>
<line x1="238.40" y1="652.36" x2="362.40" y2="652.36" stroke="#2a2119" stroke-width="2.0" />
<line x1="238.40" y1="666.24" x2="362.40" y2="666.24" stroke="#85705a" stroke-width="1.1" opacity="0.8"/>
<line x1="238.40" y1="667.74" x2="362.40" y2="667.74" stroke="#2a2119" stroke-width="2.0" />
<line x1="238.40" y1="681.62" x2="362.40" y2="681.62" stroke="#85705a" stroke-width="1.1" opacity="0.8"/>
<line x1="238.40" y1="683.12" x2="362.40" y2="683.12" stroke="#2a2119" stroke-width="2.0" />
<line x1="238.40" y1="697.00" x2="362.40" y2="697.00" stroke="#85705a" stroke-width="1.1" opacity="0.8"/>
<line x1="238.40" y1="698.50" x2="362.40" y2="698.50" stroke="#2a2119" stroke-width="2.0" />
<line x1="238.40" y1="712.38" x2="362.40" y2="712.38" stroke="#85705a" stroke-width="1.1" opacity="0.8"/>
<line x1="238.40" y1="713.88" x2="362.40" y2="713.88" stroke="#2a2119" stroke-width="2.0" />
<line x1="238.40" y1="727.76" x2="362.40" y2="727.76" stroke="#85705a" stroke-width="1.1" opacity="0.8"/>
<line x1="238.40" y1="729.26" x2="362.40" y2="729.26" stroke="#2a2119" stroke-width="2.0" />
<line x1="238.40" y1="743.14" x2="362.40" y2="743.14" stroke="#85705a" stroke-width="1.1" opacity="0.8"/>
<line x1="238.40" y1="744.64" x2="362.40" y2="744.64" stroke="#2a2119" stroke-width="2.0" />
<line x1="238.40" y1="758.52" x2="362.40" y2="758.52" stroke="#85705a" stroke-width="1.1" opacity="0.8"/>
<line x1="238.40" y1="760.02" x2="362.40" y2="760.02" stroke="#2a2119" stroke-width="2.0" />
<line x1="238.40" y1="773.90" x2="362.40" y2="773.90" stroke="#85705a" stroke-width="1.1" opacity="0.8"/>
<line x1="238.40" y1="775.40" x2="362.40" y2="775.40" stroke="#2a2119" stroke-width="2.0" />
<line x1="238.40" y1="789.28" x2="362.40" y2="789.28" stroke="#85705a" stroke-width="1.1" opacity="0.8"/>
<line x1="238.40" y1="790.78" x2="362.40" y2="790.78" stroke="#2a2119" stroke-width="2.0" />
<line x1="238.40" y1="804.66" x2="362.40" y2="804.66" stroke="#85705a" stroke-width="1.1" opacity="0.8"/>
<line x1="238.40" y1="806.16" x2="362.40" y2="806.16" stroke="#2a2119" stroke-width="2.0" />
<line x1="238.40" y1="820.04" x2="362.40" y2="820.04" stroke="#85705a" stroke-width="1.1" opacity="0.8"/>
<line x1="238.40" y1="821.54" x2="362.40" y2="821.54" stroke="#2a2119" stroke-width="2.0" />
<line x1="238.40" y1="835.42" x2="362.40" y2="835.42" stroke="#85705a" stroke-width="1.1" opacity="0.8"/>
<line x1="238.40" y1="836.92" x2="362.40" y2="836.92" stroke="#2a2119" stroke-width="2.0" />
<line x1="238.40" y1="850.80" x2="362.40" y2="850.80" stroke="#85705a" stroke-width="1.1" opacity="0.8"/>
<line x1="238.40" y1="852.30" x2="362.40" y2="852.30" stroke="#2a2119" stroke-width="2.0" />
<line x1="238.40" y1="866.18" x2="362.40" y2="866.18" stroke="#85705a" stroke-width="1.1" opacity="0.8"/>
<line x1="238.40" y1="867.68" x2="362.40" y2="867.68" stroke="#2a2119" stroke-width="2.0" />
<line x1="238.40" y1="881.56" x2="362.40" y2="881.56" stroke="#85705a" stroke-width="1.1" opacity="0.8"/>
<line x1="238.40" y1="883.06" x2="362.40" y2="883.06" stroke="#2a2119" stroke-width="2.0" />
<line x1="238.40" y1="896.94" x2="362.40" y2="896.94" stroke="#85705a" stroke-width="1.1" opacity="0.8"/>
<line x1="238.40" y1="898.44" x2="362.40" y2="898.44" stroke="#2a2119" stroke-width="2.0" />
<line x1="238.40" y1="912.32" x2="362.40" y2="912.32" stroke="#85705a" stroke-width="1.1" opacity="0.8"/>
<line x1="238.40" y1="913.82" x2="362.40" y2="913.82" stroke="#2a2119" stroke-width="2.0" />
<circle cx="243.70" cy="624.60" r="0.90" fill="#2a2018" stroke="none" stroke-width="0"/>
<circle cx="243.70" cy="633.80" r="0.90" fill="#2a2018" stroke="none" stroke-width="0"/>
<circle cx="357.00" cy="624.60" r="0.90" fill="#2a2018" stroke="none" stroke-width="0"/>
<circle cx="357.00" cy="633.80" r="0.90" fill="#2a2018" stroke="none" stroke-width="0"/>
<circle cx="243.70" cy="639.98" r="0.90" fill="#2a2018" stroke="none" stroke-width="0"/>
<circle cx="243.70" cy="649.18" r="0.90" fill="#2a2018" stroke="none" stroke-width="0"/>
<circle cx="357.00" cy="639.98" r="0.90" fill="#2a2018" stroke="none" stroke-width="0"/>
<circle cx="357.00" cy="649.18" r="0.90" fill="#2a2018" stroke="none" stroke-width="0"/>
<circle cx="243.70" cy="655.36" r="0.90" fill="#2a2018" stroke="none" stroke-width="0"/>
<circle cx="243.70" cy="664.56" r="0.90" fill="#2a2018" stroke="none" stroke-width="0"/>
<circle cx="357.00" cy="655.36" r="0.90" fill="#2a2018" stroke="none" stroke-width="0"/>
<circle cx="357.00" cy="664.56" r="0.90" fill="#2a2018" stroke="none" stroke-width="0"/>
<circle cx="243.70" cy="670.74" r="0.90" fill="#2a2018" stroke="none" stroke-width="0"/>
<circle cx="243.70" cy="679.94" r="0.90" fill="#2a2018" stroke="none" stroke-width="0"/>
<circle cx="357.00" cy="670.74" r="0.90" fill="#2a2018" stroke="none" stroke-width="0"/>
<circle cx="357.00" cy="679.94" r="0.90" fill="#2a2018" stroke="none" stroke-width="0"/>
<circle cx="243.70" cy="686.12" r="0.90" fill="#2a2018" stroke="none" stroke-width="0"/>
<circle cx="243.70" cy="695.32" r="0.90" fill="#2a2018" stroke="none" stroke-width="0"/>
<circle cx="357.00" cy="686.12" r="0.90" fill="#2a2018" stroke="none" stroke-width="0"/>
<circle cx="357.00" cy="695.32" r="0.90" fill="#2a2018" stroke="none" stroke-width="0"/>
<circle cx="243.70" cy="701.50" r="0.90" fill="#2a2018" stroke="none" stroke-width="0"/>
<circle cx="243.70" cy="710.70" r="0.90" fill="#2a2018" stroke="none" stroke-width="0"/>
<circle cx="357.00" cy="701.50" r="0.90" fill="#2a2018" stroke="none" stroke-width="0"/>
<circle cx="357.00" cy="710.70" r="0.90" fill="#2a2018" stroke="none" stroke-width="0"/>
<circle cx="243.70" cy="716.88" r="0.90" fill="#2a2018" stroke="none" stroke-width="0"/>
<circle cx="243.70" cy="726.08" r="0.90" fill="#2a2018" stroke="none" stroke-width="0"/>
<circle cx="357.00" cy="716.88" r="0.90" fill="#2a2018" stroke="none" stroke-width="0"/>
<circle cx="357.00" cy="726.08" r="0.90" fill="#2a2018" stroke="none" stroke-width="0"/>
<circle cx="243.70" cy="732.26" r="0.90" fill="#2a2018" stroke="none" stroke-width="0"/>
<circle cx="243.70" cy="741.46" r="0.90" fill="#2a2018" stroke="none" stroke-width="0"/>
<circle cx="357.00" cy="732.26" r="0.90" fill="#2a2018" stroke="none" stroke-width="0"/>
<circle cx="357.00" cy="741.46" r="0.90" fill="#2a2018" stroke="none" stroke-width="0"/>
<circle cx="243.70" cy="747.64" r="0.90" fill="#2a2018" stroke="none" stroke-width="0"/>
<circle cx="243.70" cy="756.84" r="0.90" fill="#2a2018" stroke="none" stroke-width="0"/>
<circle cx="357.00" cy="747.64" r="0.90" fill="#2a2018" stroke="none" stroke-width="0"/>
<circle cx="357.00" cy="756.84" r="0.90" fill="#2a2018" stroke="none" stroke-width="0"/>
<circle cx="243.70" cy="763.02" r="0.90" fill="#2a2018" stroke="none" stroke-width="0"/>
<circle cx="243.70" cy="772.22" r="0.90" fill="#2a2018" stroke="none" stroke-width="0"/>
<circle cx="357.00" cy="763.02" r="0.90" fill="#2a2018" stroke="none" stroke-width="0"/>
<circle cx="357.00" cy="772.22" r="0.90" fill="#2a2018" stroke="none" stroke-width="0"/>
<circle cx="243.70" cy="778.40" r="0.90" fill="#2a2018" stroke="none" stroke-width="0"/>
<circle cx="243.70" cy="787.60" r="0.90" fill="#2a2018" stroke="none" stroke-width="0"/>
<circle cx="357.00" cy="778.40" r="0.90" fill="#2a2018" stroke="none" stroke-width="0"/>
<circle cx="357.00" cy="787.60" r="0.90" fill="#2a2018" stroke="none" stroke-width="0"/>
<circle cx="243.70" cy="793.78" r="0.90" fill="#2a2018" stroke="none" stroke-width="0"/>
<circle cx="243.70" cy="802.98" r="0.90" fill="#2a2018" stroke="none" stroke-width="0"/>
<circle cx="357.00" cy="793.78" r="0.90" fill="#2a2018" stroke="none" stroke-width="0"/>
<circle cx="357.00" cy="802.98" r="0.90" fill="#2a2018" stroke="none" stroke-width="0"/>
<circle cx="243.70" cy="809.16" r="0.90" fill="#2a2018" stroke="none" stroke-width="0"/>
<circle cx="243.70" cy="818.36" r="0.90" fill="#2a2018" stroke="none" stroke-width="0"/>
<circle cx="357.00" cy="809.16" r="0.90" fill="#2a2018" stroke="none" stroke-width="0"/>
<circle cx="357.00" cy="818.36" r="0.90" fill="#2a2018" stroke="none" stroke-width="0"/>
<circle cx="243.70" cy="824.54" r="0.90" fill="#2a2018" stroke="none" stroke-width="0"/>
<circle cx="243.70" cy="833.74" r="0.90" fill="#2a2018" stroke="none" stroke-width="0"/>
<circle cx="357.00" cy="824.54" r="0.90" fill="#2a2018" stroke="none" stroke-width="0"/>
<circle cx="357.00" cy="833.74" r="0.90" fill="#2a2018" stroke="none" stroke-width="0"/>
<circle cx="243.70" cy="839.92" r="0.90" fill="#2a2018" stroke="none" stroke-width="0"/>
<circle cx="243.70" cy="849.12" r="0.90" fill="#2a2018" stroke="none" stroke-width="0"/>
<circle cx="357.00" cy="839.92" r="0.90" fill="#2a2018" stroke="none" stroke-width="0"/>
<circle cx="357.00" cy="849.12" r="0.90" fill="#2a2018" stroke="none" stroke-width="0"/>
<circle cx="243.70" cy="855.30" r="0.90" fill="#2a2018" stroke="none" stroke-width="0"/>
<circle cx="243.70" cy="864.50" r="0.90" fill="#2a2018" stroke="none" stroke-width="0"/>
<circle cx="357.00" cy="855.30" r="0.90" fill="#2a2018" stroke="none" stroke-width="0"/>
<circle cx="357.00" cy="864.50" r="0.90" fill="#2a2018" stroke="none" stroke-width="0"/>
<circle cx="243.70" cy="870.68" r="0.90" fill="#2a2018" stroke="none" stroke-width="0"/>
<circle cx="243.70" cy="879.88" r="0.90" fill="#2a2018" stroke="none" stroke-width="0"/>
<circle cx="357.00" cy="870.68" r="0.90" fill="#2a2018" stroke="none" stroke-width="0"/>
<circle cx="357.00" cy="879.88" r="0.90" fill="#2a2018" stroke="none" stroke-width="0"/>
<circle cx="243.70" cy="886.06" r="0.90" fill="#2a2018" stroke="none" stroke-width="0"/>
<circle cx="243.70" cy="895.26" r="0.90" fill="#2a2018" stroke="none" stroke-width="0"/>
<circle cx="357.00" cy="886.06" r="0.90" fill="#2a2018" stroke="none" stroke-width="0"/>
<circle cx="357.00" cy="895.26" r="0.90" fill="#2a2018" stroke="none" stroke-width="0"/>
<circle cx="243.70" cy="901.44" r="0.90" fill="#2a2018" stroke="none" stroke-width="0"/>
<circle cx="243.70" cy="910.64" r="0.90" fill="#2a2018" stroke="none" stroke-width="0"/>
<circle cx="357.00" cy="901.44" r="0.90" fill="#2a2018" stroke="none" stroke-width="0"/>
<circle cx="357.00" cy="910.64" r="0.90" fill="#2a2018" stroke="none" stroke-width="0"/>
<circle cx="243.70" cy="916.82" r="0.90" fill="#2a2018" stroke="none" stroke-width="0"/>
<circle cx="243.70" cy="926.02" r="0.90" fill="#2a2018" stroke="none" stroke-width="0"/>
<circle cx="357.00" cy="916.82" r="0.90" fill="#2a2018" stroke="none" stroke-width="0"/>
<circle cx="357.00" cy="926.02" r="0.90" fill="#2a2018" stroke="none" stroke-width="0"/>
<rect x="235.4" y="634.9" width="2.6" height="5.2" rx="1.2" fill="#8f919c" stroke="#2c2c34" stroke-width="1"/>
<rect x="362.8" y="634.9" width="2.6" height="5.2" rx="1.2" fill="#8f919c" stroke="#2c2c34" stroke-width="1"/>
<rect x="235.4" y="673.9" width="2.6" height="5.2" rx="1.2" fill="#8f919c" stroke="#2c2c34" stroke-width="1"/>
<rect x="362.8" y="673.9" width="2.6" height="5.2" rx="1.2" fill="#8f919c" stroke="#2c2c34" stroke-width="1"/>
<rect x="235.4" y="751.4" width="2.6" height="5.2" rx="1.2" fill="#8f919c" stroke="#2c2c34" stroke-width="1"/>
<rect x="362.8" y="751.4" width="2.6" height="5.2" rx="1.2" fill="#8f919c" stroke="#2c2c34" stroke-width="1"/>
<rect x="235.4" y="790.4" width="2.6" height="5.2" rx="1.2" fill="#8f919c" stroke="#2c2c34" stroke-width="1"/>
<rect x="362.8" y="790.4" width="2.6" height="5.2" rx="1.2" fill="#8f919c" stroke="#2c2c34" stroke-width="1"/>
<rect x="235.4" y="829.4" width="2.6" height="5.2" rx="1.2" fill="#8f919c" stroke="#2c2c34" stroke-width="1"/>
<rect x="362.8" y="829.4" width="2.6" height="5.2" rx="1.2" fill="#8f919c" stroke="#2c2c34" stroke-width="1"/>
<rect x="235.4" y="868.2" width="2.6" height="5.2" rx="1.2" fill="#8f919c" stroke="#2c2c34" stroke-width="1"/>
<rect x="362.8" y="868.2" width="2.6" height="5.2" rx="1.2" fill="#8f919c" stroke="#2c2c34" stroke-width="1"/>
<circle cx="300.00" cy="931.00" r="0.90" fill="#2a2018" stroke="none" stroke-width="0"/>
<rect x="225.50" y="573.40" width="35.50" height="16.00" fill="#0dad18" stroke="#0b4a10" stroke-width="1.2" />
<rect x="237.40" y="574.60" width="12.60" height="35.00" fill="#0dad18" stroke="#0b4a10" stroke-width="1.2" />
<circle cx="256.00" cy="581.20" r="1.50" fill="#aebcae" stroke="#0c2a0c" stroke-width="1.0"/>
<circle cx="243.70" cy="604.00" r="1.60" fill="#eef0ee" stroke="#061406" stroke-width="1.2"/>
<path d="M230.0,590 v1.6 q1.4,1.6 2.8,0 v-1.6" fill="#b8bccc" stroke="#555a66" stroke-width="0.6" />
<rect x="339.20" y="573.40" width="34.80" height="16.00" fill="#0dad18" stroke="#0b4a10" stroke-width="1.2" />
<rect x="350.40" y="574.60" width="12.40" height="35.00" fill="#0dad18" stroke="#0b4a10" stroke-width="1.2" />
<circle cx="368.20" cy="581.20" r="1.50" fill="#aebcae" stroke="#0c2a0c" stroke-width="1.0"/>
<circle cx="356.60" cy="604.00" r="1.60" fill="#eef0ee" stroke="#061406" stroke-width="1.2"/>
<path d="M343.7,590 v1.6 q1.4,1.6 2.8,0 v-1.6" fill="#b8bccc" stroke="#555a66" stroke-width="0.6" />
<path d="M300.4,567.5 V847" fill="none" stroke="#4e3a28" stroke-width="5.8" stroke-linecap="round"/>
<path d="M300.4,567.5 V847" fill="none" stroke="#a3815a" stroke-width="4.5" />
<path d="M298.93,567.5 V847" fill="none" stroke="#4e3a28" stroke-width="1.47" stroke-dasharray="1.3 1.5" stroke-dashoffset="0.00" opacity="0.7"/>
<path d="M300.40,567.5 V847" fill="none" stroke="#4e3a28" stroke-width="1.47" stroke-dasharray="1.3 1.5" stroke-dashoffset="0.93" opacity="0.7"/>
<path d="M301.87,567.5 V847" fill="none" stroke="#4e3a28" stroke-width="1.47" stroke-dasharray="1.3 1.5" stroke-dashoffset="1.86" opacity="0.7"/>
<rect x="297.3" y="574.6" width="10.6" height="12.4" rx="1.5" fill="#1a1a1a"/>
<line x1="297.60" y1="577.60" x2="307.60" y2="577.60" stroke="#6a6a6a" stroke-width="0.6" />
<line x1="297.60" y1="580.70" x2="307.60" y2="580.70" stroke="#6a6a6a" stroke-width="0.6" />
<line x1="297.60" y1="583.80" x2="307.60" y2="583.80" stroke="#6a6a6a" stroke-width="0.6" />
<path d="M296.4,588.6 Q295.6,596 298,602.6 L303,602.9 Q308.6,596 307.7,588.4 Z" fill="#96764f" stroke="#463322" stroke-width="1.1"/>
<path d="M297.8,589.4 V602.0" fill="none" stroke="#463322" stroke-width="1.2" stroke-dasharray="1.2 1.4" stroke-dashoffset="0.0" opacity="0.75"/>
<path d="M299.6,589.4 V602.0" fill="none" stroke="#463322" stroke-width="1.2" stroke-dasharray="1.2 1.4" stroke-dashoffset="0.9" opacity="0.75"/>
<path d="M301.4,589.4 V602.0" fill="none" stroke="#463322" stroke-width="1.2" stroke-dasharray="1.2 1.4" stroke-dashoffset="1.8" opacity="0.75"/>
<path d="M303.2,589.4 V602.0" fill="none" stroke="#463322" stroke-width="1.2" stroke-dasharray="1.2 1.4" stroke-dashoffset="2.7" opacity="0.75"/>
<path d="M305,589.4 V599.8" fill="none" stroke="#463322" stroke-width="1.2" stroke-dasharray="1.2 1.4" stroke-dashoffset="3.6" opacity="0.75"/>
<path d="M306.6,589.4 V597.6" fill="none" stroke="#463322" stroke-width="1.2" stroke-dasharray="1.2 1.4" stroke-dashoffset="4.5" opacity="0.75"/>
<rect x="301.7" y="590.2" width="1.2" height="5.6" fill="#efe9dc"/>
<ellipse cx="300.4" cy="567.4" rx="2.6" ry="1.5" fill="#2a1e14" opacity="0.85"/>
<ellipse cx="297.7" cy="646.3" rx="4.7" ry="3.9" fill="#94734f" stroke="#463322" stroke-width="1.2" transform="rotate(-28 297.7 646.3)"/>
<ellipse cx="297.7" cy="646.3" rx="3.0" ry="2.4" fill="none" stroke="#463322" stroke-width="1.3" stroke-dasharray="1.1 1.3" opacity="0.75" transform="rotate(-28 297.7 646.3)"/>
<ellipse cx="301.6" cy="644.0" rx="4.4" ry="3.6" fill="#94734f" stroke="#463322" stroke-width="1.2" transform="rotate(32 301.6 644.0)"/>
<ellipse cx="301.6" cy="644.0" rx="2.7" ry="2.1" fill="none" stroke="#463322" stroke-width="1.3" stroke-dasharray="1.1 1.3" opacity="0.75" transform="rotate(32 301.6 644.0)"/>
<path d="M295.2,648.0 L304.0,642.0" fill="none" stroke="#463322" stroke-width="1.1" stroke-dasharray="1.1 1.1" opacity="0.8"/>
<ellipse cx="297.7" cy="686.3" rx="4.7" ry="3.9" fill="#94734f" stroke="#463322" stroke-width="1.2" transform="rotate(-28 297.7 686.3)"/>
<ellipse cx="297.7" cy="686.3" rx="3.0" ry="2.4" fill="none" stroke="#463322" stroke-width="1.3" stroke-dasharray="1.1 1.3" opacity="0.75" transform="rotate(-28 297.7 686.3)"/>
<ellipse cx="301.6" cy="684.0" rx="4.4" ry="3.6" fill="#94734f" stroke="#463322" stroke-width="1.2" transform="rotate(32 301.6 684.0)"/>
<ellipse cx="301.6" cy="684.0" rx="2.7" ry="2.1" fill="none" stroke="#463322" stroke-width="1.3" stroke-dasharray="1.1 1.3" opacity="0.75" transform="rotate(32 301.6 684.0)"/>
<path d="M295.2,688.0 L304.0,682.0" fill="none" stroke="#463322" stroke-width="1.1" stroke-dasharray="1.1 1.1" opacity="0.8"/>
<ellipse cx="297.7" cy="724.3" rx="4.7" ry="3.9" fill="#94734f" stroke="#463322" stroke-width="1.2" transform="rotate(-28 297.7 724.3)"/>
<ellipse cx="297.7" cy="724.3" rx="3.0" ry="2.4" fill="none" stroke="#463322" stroke-width="1.3" stroke-dasharray="1.1 1.3" opacity="0.75" transform="rotate(-28 297.7 724.3)"/>
<ellipse cx="301.6" cy="722.0" rx="4.4" ry="3.6" fill="#94734f" stroke="#463322" stroke-width="1.2" transform="rotate(32 301.6 722.0)"/>
<ellipse cx="301.6" cy="722.0" rx="2.7" ry="2.1" fill="none" stroke="#463322" stroke-width="1.3" stroke-dasharray="1.1 1.3" opacity="0.75" transform="rotate(32 301.6 722.0)"/>
<path d="M295.2,726.0 L304.0,720.0" fill="none" stroke="#463322" stroke-width="1.1" stroke-dasharray="1.1 1.1" opacity="0.8"/>
<ellipse cx="297.7" cy="765.3" rx="4.7" ry="3.9" fill="#94734f" stroke="#463322" stroke-width="1.2" transform="rotate(-28 297.7 765.3)"/>
<ellipse cx="297.7" cy="765.3" rx="3.0" ry="2.4" fill="none" stroke="#463322" stroke-width="1.3" stroke-dasharray="1.1 1.3" opacity="0.75" transform="rotate(-28 297.7 765.3)"/>
<ellipse cx="301.6" cy="763.0" rx="4.4" ry="3.6" fill="#94734f" stroke="#463322" stroke-width="1.2" transform="rotate(32 301.6 763.0)"/>
<ellipse cx="301.6" cy="763.0" rx="2.7" ry="2.1" fill="none" stroke="#463322" stroke-width="1.3" stroke-dasharray="1.1 1.3" opacity="0.75" transform="rotate(32 301.6 763.0)"/>
<path d="M295.2,767.0 L304.0,761.0" fill="none" stroke="#463322" stroke-width="1.1" stroke-dasharray="1.1 1.1" opacity="0.8"/>
<ellipse cx="297.7" cy="803.3" rx="4.7" ry="3.9" fill="#94734f" stroke="#463322" stroke-width="1.2" transform="rotate(-28 297.7 803.3)"/>
<ellipse cx="297.7" cy="803.3" rx="3.0" ry="2.4" fill="none" stroke="#463322" stroke-width="1.3" stroke-dasharray="1.1 1.3" opacity="0.75" transform="rotate(-28 297.7 803.3)"/>
<ellipse cx="301.6" cy="801.0" rx="4.4" ry="3.6" fill="#94734f" stroke="#463322" stroke-width="1.2" transform="rotate(32 301.6 801.0)"/>
<ellipse cx="301.6" cy="801.0" rx="2.7" ry="2.1" fill="none" stroke="#463322" stroke-width="1.3" stroke-dasharray="1.1 1.3" opacity="0.75" transform="rotate(32 301.6 801.0)"/>
<path d="M295.2,805.0 L304.0,799.0" fill="none" stroke="#463322" stroke-width="1.1" stroke-dasharray="1.1 1.1" opacity="0.8"/>
<rect x="297.7" y="842.5" width="5.4" height="7.5" rx="2.2" fill="#151515"/>
<path d="M326.8,627.1 Q326.9,625.5 327.3,623.9 Q327.6,622.3 329.4,622.4 Q331.1,622.4 331.9,621.7 Q332.8,620.9 335.1,620.5 Q337.4,620.2 339.9,620.6 Q342.5,621.1 343.3,622.5 Q344.2,624.0 344.9,625.5 Q345.7,627.0 345.2,628.7 Q344.7,630.5 343.0,630.9 Q341.3,631.3 340.4,632.4 Q339.4,633.4 337.1,633.2 Q334.9,633.1 333.8,632.0 Q332.8,631.0 330.9,630.9 Q329.0,630.8 327.8,629.8 Q326.7,628.7 326.8,627.1 Z" fill="#f07a26" stroke="#9c4a16" stroke-width="1.7" stroke-linejoin="round" transform="rotate(-8 336.0 626.8)"/>
<ellipse cx="331.6" cy="626.2" rx="2.1" ry="1.9" fill="#9c4a16" opacity="0.92" transform="rotate(-8 336.0 626.8)"/>
<circle cx="331.6" cy="626.2" r="0.45" fill="#f07a26" opacity="0.5" transform="rotate(-8 336.0 626.8)"/>
<ellipse cx="339.8" cy="626.2" rx="2.1" ry="1.9" fill="#9c4a16" opacity="0.92" transform="rotate(-8 336.0 626.8)"/>
<circle cx="339.8" cy="626.2" r="0.45" fill="#f07a26" opacity="0.5" transform="rotate(-8 336.0 626.8)"/>
<path d="M270.6,656.5 Q270.5,654.9 270.1,653.3 Q269.8,651.7 268.0,651.8 Q266.3,651.9 265.5,651.1 Q264.6,650.3 262.3,649.9 Q260.0,649.6 257.5,650.0 Q254.9,650.5 254.1,651.9 Q253.2,653.4 252.5,654.9 Q251.7,656.4 252.2,658.1 Q252.7,659.9 254.4,660.3 Q256.1,660.7 257.0,661.8 Q258.0,662.8 260.3,662.6 Q262.5,662.5 263.6,661.4 Q264.6,660.4 266.5,660.3 Q268.4,660.2 269.6,659.2 Q270.7,658.1 270.6,656.5 Z" fill="#12bc1e" stroke="#0a6c12" stroke-width="1.7" stroke-linejoin="round" transform="rotate(8 261.4 656.2)"/>
<ellipse cx="265.8" cy="655.6" rx="2.1" ry="1.9" fill="#0a6c12" opacity="0.92" transform="rotate(8 261.4 656.2)"/>
<circle cx="265.8" cy="655.6" r="0.45" fill="#12bc1e" opacity="0.5" transform="rotate(8 261.4 656.2)"/>
<ellipse cx="257.6" cy="655.6" rx="2.1" ry="1.9" fill="#0a6c12" opacity="0.92" transform="rotate(8 261.4 656.2)"/>
<circle cx="257.6" cy="655.6" r="0.45" fill="#12bc1e" opacity="0.5" transform="rotate(8 261.4 656.2)"/>
<path d="M329.5,687.5 Q329.6,685.9 330.0,684.3 Q330.3,682.7 332.0,682.8 Q333.8,682.9 334.6,682.1 Q335.5,681.3 337.8,680.9 Q340.1,680.6 342.6,681.0 Q345.2,681.5 346.0,682.9 Q346.9,684.4 347.6,685.9 Q348.4,687.4 347.9,689.1 Q347.4,690.9 345.7,691.3 Q344.0,691.7 343.1,692.8 Q342.1,693.8 339.8,693.6 Q337.6,693.5 336.5,692.4 Q335.5,691.4 333.6,691.3 Q331.7,691.2 330.5,690.2 Q329.4,689.1 329.5,687.5 Z" fill="#f0160e" stroke="#960c08" stroke-width="1.7" stroke-linejoin="round" transform="rotate(-5 338.7 687.2)"/>
<ellipse cx="334.3" cy="686.6" rx="2.1" ry="1.9" fill="#960c08" opacity="0.92" transform="rotate(-5 338.7 687.2)"/>
<circle cx="334.3" cy="686.6" r="0.45" fill="#f0160e" opacity="0.5" transform="rotate(-5 338.7 687.2)"/>
<ellipse cx="342.5" cy="686.6" rx="2.1" ry="1.9" fill="#960c08" opacity="0.92" transform="rotate(-5 338.7 687.2)"/>
<circle cx="342.5" cy="686.6" r="0.45" fill="#f0160e" opacity="0.5" transform="rotate(-5 338.7 687.2)"/>
<path d="M271.8,717.8 Q271.7,716.2 271.3,714.6 Q271.0,713.0 269.2,713.1 Q267.5,713.1 266.7,712.4 Q265.8,711.6 263.5,711.2 Q261.2,710.9 258.7,711.3 Q256.1,711.8 255.3,713.2 Q254.4,714.7 253.7,716.2 Q252.9,717.7 253.4,719.4 Q253.9,721.2 255.6,721.6 Q257.3,722.0 258.2,723.1 Q259.2,724.1 261.5,723.9 Q263.7,723.8 264.8,722.7 Q265.8,721.7 267.7,721.6 Q269.6,721.5 270.8,720.5 Q271.9,719.4 271.8,717.8 Z" fill="#1212f0" stroke="#08088c" stroke-width="1.7" stroke-linejoin="round" transform="rotate(5 262.6 717.5)"/>
<ellipse cx="267.0" cy="716.9" rx="2.1" ry="1.9" fill="#08088c" opacity="0.92" transform="rotate(5 262.6 717.5)"/>
<circle cx="267.0" cy="716.9" r="0.45" fill="#1212f0" opacity="0.5" transform="rotate(5 262.6 717.5)"/>
<ellipse cx="258.8" cy="716.9" rx="2.1" ry="1.9" fill="#08088c" opacity="0.92" transform="rotate(5 262.6 717.5)"/>
<circle cx="258.8" cy="716.9" r="0.45" fill="#1212f0" opacity="0.5" transform="rotate(5 262.6 717.5)"/>
<path d="M323.2,749.0 Q323.3,747.4 323.7,745.8 Q324.0,744.2 325.8,744.3 Q327.5,744.4 328.3,743.6 Q329.2,742.8 331.5,742.4 Q333.8,742.1 336.3,742.5 Q338.9,743.0 339.7,744.4 Q340.6,745.9 341.3,747.4 Q342.1,748.9 341.6,750.6 Q341.1,752.4 339.4,752.8 Q337.7,753.2 336.8,754.3 Q335.8,755.3 333.5,755.1 Q331.3,755.0 330.2,753.9 Q329.2,752.9 327.3,752.8 Q325.4,752.7 324.2,751.7 Q323.1,750.6 323.2,749.0 Z" fill="#f0e812" stroke="#8e8a0c" stroke-width="1.7" stroke-linejoin="round" transform="rotate(-10 332.4 748.7)"/>
<ellipse cx="328.0" cy="748.1" rx="2.1" ry="1.9" fill="#8e8a0c" opacity="0.92" transform="rotate(-10 332.4 748.7)"/>
<circle cx="328.0" cy="748.1" r="0.45" fill="#f0e812" opacity="0.5" transform="rotate(-10 332.4 748.7)"/>
<ellipse cx="336.2" cy="748.1" rx="2.1" ry="1.9" fill="#8e8a0c" opacity="0.92" transform="rotate(-10 332.4 748.7)"/>
<circle cx="336.2" cy="748.1" r="0.45" fill="#f0e812" opacity="0.5" transform="rotate(-10 332.4 748.7)"/>
<path d="M272.2,780.3 Q272.1,778.7 271.7,777.1 Q271.4,775.5 269.6,775.6 Q267.9,775.6 267.1,774.9 Q266.2,774.1 263.9,773.7 Q261.6,773.4 259.1,773.8 Q256.5,774.3 255.7,775.7 Q254.8,777.2 254.1,778.7 Q253.3,780.2 253.8,781.9 Q254.3,783.7 256.0,784.1 Q257.7,784.5 258.6,785.6 Q259.6,786.6 261.9,786.4 Q264.1,786.3 265.2,785.2 Q266.2,784.2 268.1,784.1 Q270.0,784.0 271.2,783.0 Q272.3,781.9 272.2,780.3 Z" fill="#f07a26" stroke="#9c4a16" stroke-width="1.7" stroke-linejoin="round" transform="rotate(8 263.0 780.0)"/>
<ellipse cx="267.4" cy="779.4" rx="2.1" ry="1.9" fill="#9c4a16" opacity="0.92" transform="rotate(8 263.0 780.0)"/>
<circle cx="267.4" cy="779.4" r="0.45" fill="#f07a26" opacity="0.5" transform="rotate(8 263.0 780.0)"/>
<ellipse cx="259.2" cy="779.4" rx="2.1" ry="1.9" fill="#9c4a16" opacity="0.92" transform="rotate(8 263.0 780.0)"/>
<circle cx="259.2" cy="779.4" r="0.45" fill="#f07a26" opacity="0.5" transform="rotate(8 263.0 780.0)"/>
<path d="M324.4,810.9 Q324.5,809.3 324.9,807.7 Q325.2,806.1 327.0,806.2 Q328.7,806.2 329.5,805.5 Q330.4,804.7 332.7,804.3 Q335.0,804.0 337.5,804.4 Q340.1,804.9 340.9,806.3 Q341.8,807.8 342.5,809.3 Q343.3,810.8 342.8,812.5 Q342.3,814.3 340.6,814.7 Q338.9,815.1 338.0,816.2 Q337.0,817.2 334.7,817.0 Q332.5,816.9 331.4,815.8 Q330.4,814.8 328.5,814.7 Q326.6,814.6 325.4,813.6 Q324.3,812.5 324.4,810.9 Z" fill="#12bc1e" stroke="#0a6c12" stroke-width="1.7" stroke-linejoin="round" transform="rotate(5 333.6 810.6)"/>
<ellipse cx="329.2" cy="810.0" rx="2.1" ry="1.9" fill="#0a6c12" opacity="0.92" transform="rotate(5 333.6 810.6)"/>
<circle cx="329.2" cy="810.0" r="0.45" fill="#12bc1e" opacity="0.5" transform="rotate(5 333.6 810.6)"/>
<ellipse cx="337.4" cy="810.0" rx="2.1" ry="1.9" fill="#0a6c12" opacity="0.92" transform="rotate(5 333.6 810.6)"/>
<circle cx="337.4" cy="810.0" r="0.45" fill="#12bc1e" opacity="0.5" transform="rotate(5 333.6 810.6)"/>
<path d="M270.6,841.8 Q270.5,840.2 270.1,838.6 Q269.8,837.0 268.0,837.1 Q266.3,837.1 265.5,836.4 Q264.6,835.6 262.3,835.2 Q260.0,834.9 257.5,835.3 Q254.9,835.8 254.1,837.2 Q253.2,838.7 252.5,840.2 Q251.7,841.7 252.2,843.4 Q252.7,845.2 254.4,845.6 Q256.1,846.0 257.0,847.1 Q258.0,848.1 260.3,847.9 Q262.5,847.8 263.6,846.7 Q264.6,845.7 266.5,845.6 Q268.4,845.5 269.6,844.5 Q270.7,843.4 270.6,841.8 Z" fill="#f0160e" stroke="#960c08" stroke-width="1.7" stroke-linejoin="round" transform="rotate(5 261.4 841.5)"/>
<ellipse cx="265.8" cy="840.9" rx="2.1" ry="1.9" fill="#960c08" opacity="0.92" transform="rotate(5 261.4 841.5)"/>
<circle cx="265.8" cy="840.9" r="0.45" fill="#f0160e" opacity="0.5" transform="rotate(5 261.4 841.5)"/>
<ellipse cx="257.6" cy="840.9" rx="2.1" ry="1.9" fill="#960c08" opacity="0.92" transform="rotate(5 261.4 841.5)"/>
<circle cx="257.6" cy="840.9" r="0.45" fill="#f0160e" opacity="0.5" transform="rotate(5 261.4 841.5)"/>
<path d="M328.2,872.9 Q328.3,871.3 328.7,869.7 Q329.0,868.1 330.8,868.2 Q332.5,868.2 333.3,867.5 Q334.2,866.7 336.5,866.3 Q338.8,866.0 341.3,866.4 Q343.9,866.9 344.7,868.3 Q345.6,869.8 346.3,871.3 Q347.1,872.8 346.6,874.5 Q346.1,876.3 344.4,876.7 Q342.7,877.1 341.8,878.2 Q340.8,879.2 338.5,879.0 Q336.3,878.9 335.2,877.8 Q334.2,876.8 332.3,876.7 Q330.4,876.6 329.2,875.6 Q328.1,874.5 328.2,872.9 Z" fill="#1212f0" stroke="#08088c" stroke-width="1.7" stroke-linejoin="round" transform="rotate(-5 337.4 872.6)"/>
<ellipse cx="333.0" cy="872.0" rx="2.1" ry="1.9" fill="#08088c" opacity="0.92" transform="rotate(-5 337.4 872.6)"/>
<circle cx="333.0" cy="872.0" r="0.45" fill="#1212f0" opacity="0.5" transform="rotate(-5 337.4 872.6)"/>
<ellipse cx="341.2" cy="872.0" rx="2.1" ry="1.9" fill="#08088c" opacity="0.92" transform="rotate(-5 337.4 872.6)"/>
<circle cx="341.2" cy="872.0" r="0.45" fill="#1212f0" opacity="0.5" transform="rotate(-5 337.4 872.6)"/>
<path d="M274.6,905.3 Q274.5,903.7 274.1,902.1 Q273.8,900.5 272.0,900.6 Q270.3,900.6 269.5,899.9 Q268.6,899.1 266.3,898.7 Q264.0,898.4 261.5,898.8 Q258.9,899.3 258.1,900.7 Q257.2,902.2 256.5,903.7 Q255.7,905.2 256.2,906.9 Q256.7,908.7 258.4,909.1 Q260.1,909.5 261.0,910.6 Q262.0,911.6 264.3,911.4 Q266.5,911.3 267.6,910.2 Q268.6,909.2 270.5,909.1 Q272.4,909.0 273.6,908.0 Q274.7,906.9 274.6,905.3 Z" fill="#f0e812" stroke="#8e8a0c" stroke-width="1.7" stroke-linejoin="round" transform="rotate(10 265.4 905.0)"/>
<ellipse cx="269.8" cy="904.4" rx="2.1" ry="1.9" fill="#8e8a0c" opacity="0.92" transform="rotate(10 265.4 905.0)"/>
<circle cx="269.8" cy="904.4" r="0.45" fill="#f0e812" opacity="0.5" transform="rotate(10 265.4 905.0)"/>
<ellipse cx="261.6" cy="904.4" rx="2.1" ry="1.9" fill="#8e8a0c" opacity="0.92" transform="rotate(10 265.4 905.0)"/>
<circle cx="261.6" cy="904.4" r="0.45" fill="#f0e812" opacity="0.5" transform="rotate(10 265.4 905.0)"/>
<rect x="422.80" y="573.50" width="5.60" height="15.50" fill="#f0f1f3" stroke="#5f626a" stroke-width="0.9" />
<circle cx="425.60" cy="581.00" r="1.20" fill="#fff" stroke="#444" stroke-width="0.6"/>
<rect x="423.00" y="589.00" width="5.20" height="6.50" fill="#dfe1e6" stroke="#4e525c" stroke-width="0.9" />
<circle cx="425.60" cy="592.30" r="1.00" fill="#fff" stroke="#444" stroke-width="0.5"/>
<circle cx="425.60" cy="597.60" r="1.90" fill="#eee" stroke="#3e424a" stroke-width="1.1"/>
<line x1="425.60" y1="599.00" x2="425.60" y2="606.00" stroke="#555a64" stroke-width="1.2" />
<ellipse cx="425.6" cy="609" rx="2.1" ry="3" fill="#eee" stroke="#3e424a" stroke-width="1.2"/>
<path d="M425.1,611.5 C422.6,618 421.7,640 422.6,666" fill="none" stroke="#32251a" stroke-width="2.8" />
<path d="M425.1,611.5 C422.6,618 421.7,640 422.6,666" fill="none" stroke="#8b7054" stroke-width="1.6" stroke-dasharray="1.3 1.3"/>
<path d="M426.2,611.5 C427.6,622 426.2,650 423.2,666" fill="none" stroke="#32251a" stroke-width="2.8" />
<path d="M426.2,611.5 C427.6,622 426.2,650 423.2,666" fill="none" stroke="#8b7054" stroke-width="1.6" stroke-dasharray="1.3 1.3"/>
<path d="M423.0,672 C423.0,692 425.6,690 425.6,714 L425.8,853" fill="none" stroke="#32251a" stroke-width="3.2" />
<path d="M423.0,672 C423.0,692 425.6,690 425.6,714 L425.8,853" fill="none" stroke="#8b7054" stroke-width="1.8" stroke-dasharray="1.4 1.4"/>
<rect x="420.7" y="663.6" width="4.6" height="9.2" rx="0.8" fill="#111"/>
<rect x="423.4" y="821.4" width="4.2" height="8.4" rx="0.8" fill="#111"/>
<rect x="487.10" y="573.50" width="5.60" height="15.50" fill="#f0f1f3" stroke="#5f626a" stroke-width="0.9" />
<circle cx="489.90" cy="581.00" r="1.20" fill="#fff" stroke="#444" stroke-width="0.6"/>
<rect x="487.30" y="589.00" width="5.20" height="6.50" fill="#dfe1e6" stroke="#4e525c" stroke-width="0.9" />
<circle cx="489.90" cy="592.30" r="1.00" fill="#fff" stroke="#444" stroke-width="0.5"/>
<circle cx="489.90" cy="597.60" r="1.90" fill="#eee" stroke="#3e424a" stroke-width="1.1"/>
<line x1="489.90" y1="599.00" x2="489.90" y2="606.00" stroke="#555a64" stroke-width="1.2" />
<ellipse cx="489.9" cy="609" rx="2.1" ry="3" fill="#eee" stroke="#3e424a" stroke-width="1.2"/>
<path d="M490.4,611.5 C492.9,618 493.8,640 492.9,666" fill="none" stroke="#32251a" stroke-width="2.8" />
<path d="M490.4,611.5 C492.9,618 493.8,640 492.9,666" fill="none" stroke="#8b7054" stroke-width="1.6" stroke-dasharray="1.3 1.3"/>
<path d="M489.3,611.5 C487.9,622 489.3,650 492.3,666" fill="none" stroke="#32251a" stroke-width="2.8" />
<path d="M489.3,611.5 C487.9,622 489.3,650 492.3,666" fill="none" stroke="#8b7054" stroke-width="1.6" stroke-dasharray="1.3 1.3"/>
<path d="M492.5,672 C492.5,692 489.9,690 489.9,714 L489.7,853" fill="none" stroke="#32251a" stroke-width="3.2" />
<path d="M492.5,672 C492.5,692 489.9,690 489.9,714 L489.7,853" fill="none" stroke="#8b7054" stroke-width="1.8" stroke-dasharray="1.4 1.4"/>
<rect x="490.2" y="663.6" width="4.6" height="9.2" rx="0.8" fill="#111"/>
<rect x="487.9" y="821.4" width="4.2" height="8.4" rx="0.8" fill="#111"/>
<path d="M420.6,856.5 C419.5,852.5 423.0,851.2 427.0,852 C430.5,853 431.0,857.3 436.0,858.2 L478.6,858.2 C483.6,857.3 484.1,853 487.6,852 C491.6,851.2 495.1,852.5 494.0,856.5 C491.6,863.5 482.6,866.6 457.3,866.8 C432.0,866.6 423.0,863.5 420.6,856.5 Z" fill="#14821e" stroke="#0a3a0c" stroke-width="1.2" />
<path d="M434.0,860.3 Q457.3,862 480.6,860.3" fill="none" stroke="#0a3a0c" stroke-width="0.8" />
<rect x="591.20" y="573.50" width="5.60" height="15.50" fill="#f0f1f3" stroke="#5f626a" stroke-width="0.9" />
<circle cx="594.00" cy="581.00" r="1.20" fill="#fff" stroke="#444" stroke-width="0.6"/>
<rect x="591.40" y="589.00" width="5.20" height="6.50" fill="#dfe1e6" stroke="#4e525c" stroke-width="0.9" />
<circle cx="594.00" cy="592.30" r="1.00" fill="#fff" stroke="#444" stroke-width="0.5"/>
<circle cx="594.00" cy="597.60" r="1.90" fill="#eee" stroke="#3e424a" stroke-width="1.1"/>
<line x1="594.00" y1="599.00" x2="594.00" y2="606.00" stroke="#555a64" stroke-width="1.2" />
<ellipse cx="594" cy="609" rx="2.1" ry="3" fill="#eee" stroke="#3e424a" stroke-width="1.2"/>
<path d="M593.5,611.5 C591.0,618 590.1,640 591.0,666" fill="none" stroke="#32251a" stroke-width="2.8" />
<path d="M593.5,611.5 C591.0,618 590.1,640 591.0,666" fill="none" stroke="#8b7054" stroke-width="1.6" stroke-dasharray="1.3 1.3"/>
<path d="M594.6,611.5 C596.0,622 594.6,650 591.6,666" fill="none" stroke="#32251a" stroke-width="2.8" />
<path d="M594.6,611.5 C596.0,622 594.6,650 591.6,666" fill="none" stroke="#8b7054" stroke-width="1.6" stroke-dasharray="1.3 1.3"/>
<path d="M591.4,672 C591.4,692 594.0,690 594.0,714 L594.2,853" fill="none" stroke="#32251a" stroke-width="3.2" />
<path d="M591.4,672 C591.4,692 594.0,690 594.0,714 L594.2,853" fill="none" stroke="#8b7054" stroke-width="1.8" stroke-dasharray="1.4 1.4"/>
<rect x="589.1" y="663.6" width="4.6" height="9.2" rx="0.8" fill="#111"/>
<rect x="591.8" y="821.4" width="4.2" height="8.4" rx="0.8" fill="#111"/>
<rect x="655.20" y="573.50" width="5.60" height="15.50" fill="#f0f1f3" stroke="#5f626a" stroke-width="0.9" />
<circle cx="658.00" cy="581.00" r="1.20" fill="#fff" stroke="#444" stroke-width="0.6"/>
<rect x="655.40" y="589.00" width="5.20" height="6.50" fill="#dfe1e6" stroke="#4e525c" stroke-width="0.9" />
<circle cx="658.00" cy="592.30" r="1.00" fill="#fff" stroke="#444" stroke-width="0.5"/>
<circle cx="658.00" cy="597.60" r="1.90" fill="#eee" stroke="#3e424a" stroke-width="1.1"/>
<line x1="658.00" y1="599.00" x2="658.00" y2="606.00" stroke="#555a64" stroke-width="1.2" />
<ellipse cx="658" cy="609" rx="2.1" ry="3" fill="#eee" stroke="#3e424a" stroke-width="1.2"/>
<path d="M658.5,611.5 C661.0,618 661.9,640 661.0,666" fill="none" stroke="#32251a" stroke-width="2.8" />
<path d="M658.5,611.5 C661.0,618 661.9,640 661.0,666" fill="none" stroke="#8b7054" stroke-width="1.6" stroke-dasharray="1.3 1.3"/>
<path d="M657.4,611.5 C656.0,622 657.4,650 660.4,666" fill="none" stroke="#32251a" stroke-width="2.8" />
<path d="M657.4,611.5 C656.0,622 657.4,650 660.4,666" fill="none" stroke="#8b7054" stroke-width="1.6" stroke-dasharray="1.3 1.3"/>
<path d="M660.6,672 C660.6,692 658.0,690 658.0,714 L657.8,853" fill="none" stroke="#32251a" stroke-width="3.2" />
<path d="M660.6,672 C660.6,692 658.0,690 658.0,714 L657.8,853" fill="none" stroke="#8b7054" stroke-width="1.8" stroke-dasharray="1.4 1.4"/>
<rect x="658.3" y="663.6" width="4.6" height="9.2" rx="0.8" fill="#111"/>
<rect x="656.0" y="821.4" width="4.2" height="8.4" rx="0.8" fill="#111"/>
<path d="M589.4,856.5 C588.3,852.5 591.8,851.2 595.8,852 C599.3,853 599.8,857.3 604.8,858.2 L647.4,858.2 C652.4,857.3 652.9,853 656.4,852 C660.4,851.2 663.9,852.5 662.8,856.5 C660.4,863.5 651.4,866.6 626.1,866.8 C600.8,866.6 591.8,863.5 589.4,856.5 Z" fill="#14821e" stroke="#0a3a0c" stroke-width="1.2" />
<path d="M602.8,860.3 Q626.1,862 649.4,860.3" fill="none" stroke="#0a3a0c" stroke-width="0.8" />
<circle cx="541.50" cy="581.30" r="6.20" fill="#dfdee9" stroke="#7d766a" stroke-width="0.9"/>
<ellipse cx="538.9" cy="580.4" rx="2.1" ry="2.4" fill="#e23873" opacity="0.9"/>
<ellipse cx="538.3" cy="578.3" rx="1.5" ry="1.1" fill="#efa8c4" opacity="0.8"/>
<ellipse cx="543.4" cy="579.3" rx="1.8" ry="2.1" fill="#4a5cc0" opacity="0.9"/>
<ellipse cx="541.8" cy="583" rx="1.8" ry="1" fill="#b9dcc0" opacity="0.9"/>
<rect x="538.8" y="584.2" width="5" height="1.1" fill="#7a80b0" opacity="0.8"/>
<ellipse cx="536.7" cy="581.4" rx="1.1" ry="0.8" fill="#1a0a12"/>
<ellipse cx="546.5" cy="581.5" rx="1.0" ry="0.8" fill="#0a0a0a"/>
<polygon points="717.30,581.80 730.00,581.80 735.20,606.30 722.30,608.80" fill="#14821e" stroke="#0a3a0c" stroke-width="1.1" stroke-linejoin="round" />
<path d="M710.2,573.3 H738.8 V589.6 H731.7 L730,581.8 H717.3 L718.9,589.6 H710.2 Z" fill="#14821e" stroke="#0a3a0c" stroke-width="1.1" />
<circle cx="727.70" cy="602.20" r="1.40" fill="#f0f0f0" stroke="#123a12" stroke-width="0.7"/>
<path d="M713.2,590 v1.6 q1.3,1.5 2.6,0 v-1.6" fill="#b8bccc" stroke="#555a66" stroke-width="0.6" />
<rect x="809.00" y="573.40" width="5.60" height="16.80" fill="#cfd2ec" stroke="#5a5c78" stroke-width="0.9" />
<circle cx="811.80" cy="581.00" r="1.30" fill="#f4f4ff" stroke="#2e3038" stroke-width="0.8"/>
<rect x="809.30" y="590.20" width="5.00" height="7.00" fill="#a9acc2" stroke="#33363e" stroke-width="0.9" />
<circle cx="811.80" cy="593.40" r="1.00" fill="#f0f0f0" stroke="#2e3038" stroke-width="0.6"/>
<circle cx="811.80" cy="598.40" r="1.60" fill="#eee" stroke="#3e424a" stroke-width="1"/>
<line x1="811.80" y1="599.60" x2="811.80" y2="606.60" stroke="#555a64" stroke-width="1.2" />
<ellipse cx="811.8" cy="609.6" rx="2.6" ry="3.1" fill="#eee" stroke="#3e424a" stroke-width="1.3"/>
<path d="M811.8,612 V882" fill="none" stroke="#3a2a1e" stroke-width="2.6" />
<path d="M811.8,612 V882" fill="none" stroke="#8a6a48" stroke-width="1.4" stroke-dasharray="1.2 1.2"/>
<ellipse cx="811.0999999999999" cy="613.1" rx="3.1" ry="3.4" fill="#6a4a30" stroke="#24180f" stroke-width="1.1"/>
<ellipse cx="812.3" cy="617.2" rx="3.3" ry="3.7" fill="#6a4a30" stroke="#24180f" stroke-width="1.1"/>
<path d="M809.1999999999999,614.5 L813.5999999999999,611.4 M809.5999999999999,619 L814.5999999999999,615.6" stroke="#24180f" stroke-width="0.9" fill="none"/>
<circle cx="812.70" cy="610.40" r="0.80" fill="#e0d4bc" stroke="none" stroke-width="0"/>
<ellipse cx="811.0999999999999" cy="632.9" rx="3.1" ry="3.4" fill="#6a4a30" stroke="#24180f" stroke-width="1.1"/>
<ellipse cx="812.3" cy="637.0" rx="3.3" ry="3.7" fill="#6a4a30" stroke="#24180f" stroke-width="1.1"/>
<path d="M809.1999999999999,634.3 L813.5999999999999,631.1999999999999 M809.5999999999999,638.8 L814.5999999999999,635.4" stroke="#24180f" stroke-width="0.9" fill="none"/>
<circle cx="812.70" cy="630.20" r="0.80" fill="#e0d4bc" stroke="none" stroke-width="0"/>
<ellipse cx="811.0999999999999" cy="694.3000000000001" rx="3.1" ry="3.4" fill="#6a4a30" stroke="#24180f" stroke-width="1.1"/>
<ellipse cx="812.3" cy="698.4000000000001" rx="3.3" ry="3.7" fill="#6a4a30" stroke="#24180f" stroke-width="1.1"/>
<path d="M809.1999999999999,695.7 L813.5999999999999,692.6 M809.5999999999999,700.2 L814.5999999999999,696.8000000000001" stroke="#24180f" stroke-width="0.9" fill="none"/>
<circle cx="812.70" cy="691.60" r="0.80" fill="#e0d4bc" stroke="none" stroke-width="0"/>
<ellipse cx="811.0999999999999" cy="756.5" rx="3.1" ry="3.4" fill="#6a4a30" stroke="#24180f" stroke-width="1.1"/>
<ellipse cx="812.3" cy="760.6" rx="3.3" ry="3.7" fill="#6a4a30" stroke="#24180f" stroke-width="1.1"/>
<path d="M809.1999999999999,757.9 L813.5999999999999,754.8 M809.5999999999999,762.4 L814.5999999999999,759.0" stroke="#24180f" stroke-width="0.9" fill="none"/>
<circle cx="812.70" cy="753.80" r="0.80" fill="#e0d4bc" stroke="none" stroke-width="0"/>
<ellipse cx="811.0999999999999" cy="818.3000000000001" rx="3.1" ry="3.4" fill="#6a4a30" stroke="#24180f" stroke-width="1.1"/>
<ellipse cx="812.3" cy="822.4000000000001" rx="3.3" ry="3.7" fill="#6a4a30" stroke="#24180f" stroke-width="1.1"/>
<path d="M809.1999999999999,819.7 L813.5999999999999,816.6 M809.5999999999999,824.2 L814.5999999999999,820.8000000000001" stroke="#24180f" stroke-width="0.9" fill="none"/>
<circle cx="812.70" cy="815.60" r="0.80" fill="#e0d4bc" stroke="none" stroke-width="0"/>
<rect x="809.3" y="878.5" width="5" height="6.5" rx="0.8" fill="#111"/>
<line x1="811.80" y1="885.00" x2="811.80" y2="893.80" stroke="#4a3a2c" stroke-width="1.6" />
</svg>
</body></html>
